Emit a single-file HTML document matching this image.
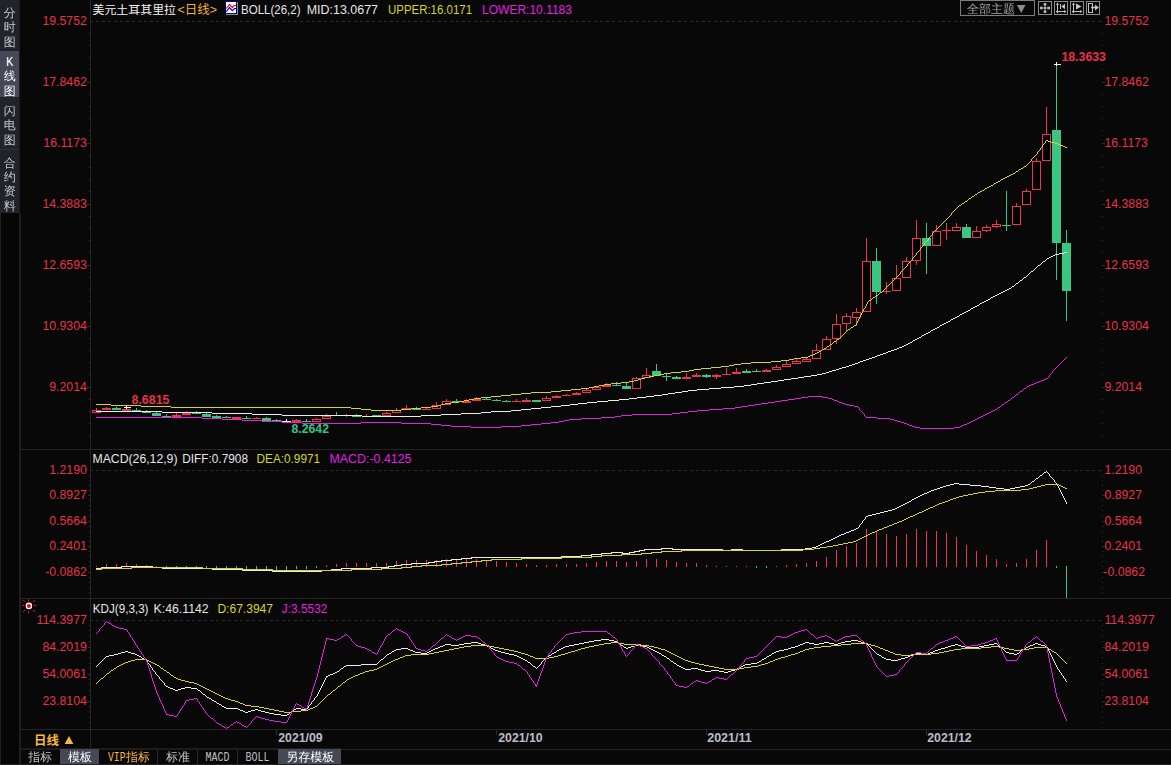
<!DOCTYPE html>
<html lang="zh-CN">
<head>
<meta charset="utf-8">
<title>美元土耳其里拉 日线</title>
<style>
html,body{margin:0;padding:0;background:#080808;overflow:hidden}
body{width:1171px;height:765px;font-family:'Liberation Sans','Noto Sans CJK SC',sans-serif}
svg{display:block}
text{white-space:pre}
</style>
</head>
<body>
<svg width="1171" height="765" viewBox="0 0 1171 765">
<rect x="0" y="0" width="1171" height="765" fill="#080808" />
<rect x="0" y="0" width="19" height="213" fill="#222329" />
<rect x="0" y="51" width="19" height="46" fill="#454856" />
<rect x="0" y="149" width="19" height="1" fill="#2e3037" />
<rect x="0" y="213" width="20" height="552" fill="#060606" />
<rect x="0" y="213" width="1" height="552" fill="#202022" />
<rect x="19" y="0" width="1" height="213" fill="#1b1c20" />
<rect x="19" y="213" width="2" height="552" fill="#1e1e1f" />
<rect x="90" y="0" width="1" height="749" fill="#242424" />
<rect x="20" y="449" width="1151" height="1" fill="#242424" />
<rect x="20" y="598" width="1151" height="1" fill="#242424" />
<rect x="20" y="729" width="1151" height="1" fill="#242424" />
<rect x="20" y="748" width="322" height="1" fill="#1d1d1d" />
<rect x="20" y="749" width="1151" height="1" fill="#1c1c1c" />
<rect x="342" y="749" width="829" height="1" fill="#242424" />
<rect x="20" y="764" width="1151" height="1" fill="#1c1c1c" />
<line x1="90" y1="21.5" x2="1101" y2="21.5" stroke="#2b2b2b" stroke-width="1" stroke-dasharray="3 3"/>
<line x1="90" y1="470.5" x2="1101" y2="470.5" stroke="#2b2b2b" stroke-width="1" stroke-dasharray="3 3"/>
<line x1="90" y1="620.5" x2="1101" y2="620.5" stroke="#2b2b2b" stroke-width="1" stroke-dasharray="3 3"/>
<rect x="89" y="33" width="1" height="1" fill="#333" />
<rect x="1102" y="33" width="1" height="1" fill="#333" />
<rect x="89" y="45" width="1" height="1" fill="#333" />
<rect x="1102" y="45" width="1" height="1" fill="#333" />
<rect x="89" y="57" width="1" height="1" fill="#333" />
<rect x="1102" y="57" width="1" height="1" fill="#333" />
<rect x="89" y="69" width="1" height="1" fill="#333" />
<rect x="1102" y="69" width="1" height="1" fill="#333" />
<rect x="87" y="82" width="3" height="1" fill="#2e2e2e" />
<rect x="1102" y="82" width="3" height="1" fill="#2e2e2e" />
<rect x="89" y="94" width="1" height="1" fill="#333" />
<rect x="1102" y="94" width="1" height="1" fill="#333" />
<rect x="89" y="106" width="1" height="1" fill="#333" />
<rect x="1102" y="106" width="1" height="1" fill="#333" />
<rect x="89" y="118" width="1" height="1" fill="#333" />
<rect x="1102" y="118" width="1" height="1" fill="#333" />
<rect x="89" y="130" width="1" height="1" fill="#333" />
<rect x="1102" y="130" width="1" height="1" fill="#333" />
<rect x="87" y="143" width="3" height="1" fill="#2e2e2e" />
<rect x="1102" y="143" width="3" height="1" fill="#2e2e2e" />
<rect x="89" y="155" width="1" height="1" fill="#333" />
<rect x="1102" y="155" width="1" height="1" fill="#333" />
<rect x="89" y="167" width="1" height="1" fill="#333" />
<rect x="1102" y="167" width="1" height="1" fill="#333" />
<rect x="89" y="179" width="1" height="1" fill="#333" />
<rect x="1102" y="179" width="1" height="1" fill="#333" />
<rect x="89" y="191" width="1" height="1" fill="#333" />
<rect x="1102" y="191" width="1" height="1" fill="#333" />
<rect x="87" y="204" width="3" height="1" fill="#2e2e2e" />
<rect x="1102" y="204" width="3" height="1" fill="#2e2e2e" />
<rect x="89" y="216" width="1" height="1" fill="#333" />
<rect x="1102" y="216" width="1" height="1" fill="#333" />
<rect x="89" y="228" width="1" height="1" fill="#333" />
<rect x="1102" y="228" width="1" height="1" fill="#333" />
<rect x="89" y="240" width="1" height="1" fill="#333" />
<rect x="1102" y="240" width="1" height="1" fill="#333" />
<rect x="89" y="252" width="1" height="1" fill="#333" />
<rect x="1102" y="252" width="1" height="1" fill="#333" />
<rect x="87" y="265" width="3" height="1" fill="#2e2e2e" />
<rect x="1102" y="265" width="3" height="1" fill="#2e2e2e" />
<rect x="89" y="277" width="1" height="1" fill="#333" />
<rect x="1102" y="277" width="1" height="1" fill="#333" />
<rect x="89" y="289" width="1" height="1" fill="#333" />
<rect x="1102" y="289" width="1" height="1" fill="#333" />
<rect x="89" y="301" width="1" height="1" fill="#333" />
<rect x="1102" y="301" width="1" height="1" fill="#333" />
<rect x="89" y="313" width="1" height="1" fill="#333" />
<rect x="1102" y="313" width="1" height="1" fill="#333" />
<rect x="87" y="326" width="3" height="1" fill="#2e2e2e" />
<rect x="1102" y="326" width="3" height="1" fill="#2e2e2e" />
<rect x="89" y="338" width="1" height="1" fill="#333" />
<rect x="1102" y="338" width="1" height="1" fill="#333" />
<rect x="89" y="350" width="1" height="1" fill="#333" />
<rect x="1102" y="350" width="1" height="1" fill="#333" />
<rect x="89" y="362" width="1" height="1" fill="#333" />
<rect x="1102" y="362" width="1" height="1" fill="#333" />
<rect x="89" y="374" width="1" height="1" fill="#333" />
<rect x="1102" y="374" width="1" height="1" fill="#333" />
<rect x="87" y="387" width="3" height="1" fill="#2e2e2e" />
<rect x="1102" y="387" width="3" height="1" fill="#2e2e2e" />
<rect x="89" y="399" width="1" height="1" fill="#333" />
<rect x="1102" y="399" width="1" height="1" fill="#333" />
<rect x="89" y="411" width="1" height="1" fill="#333" />
<rect x="1102" y="411" width="1" height="1" fill="#333" />
<rect x="89" y="423" width="1" height="1" fill="#333" />
<rect x="1102" y="423" width="1" height="1" fill="#333" />
<rect x="89" y="435" width="1" height="1" fill="#333" />
<rect x="1102" y="435" width="1" height="1" fill="#333" />
<rect x="89" y="475" width="1" height="1" fill="#333" />
<rect x="1102" y="475" width="1" height="1" fill="#333" />
<rect x="89" y="480" width="1" height="1" fill="#333" />
<rect x="1102" y="480" width="1" height="1" fill="#333" />
<rect x="89" y="485" width="1" height="1" fill="#333" />
<rect x="1102" y="485" width="1" height="1" fill="#333" />
<rect x="89" y="490" width="1" height="1" fill="#333" />
<rect x="1102" y="490" width="1" height="1" fill="#333" />
<rect x="88" y="495" width="2" height="1" fill="#2e2e2e" />
<rect x="1102" y="495" width="3" height="1" fill="#2a2a2a" />
<rect x="89" y="500" width="1" height="1" fill="#333" />
<rect x="1102" y="500" width="1" height="1" fill="#333" />
<rect x="89" y="505" width="1" height="1" fill="#333" />
<rect x="1102" y="505" width="1" height="1" fill="#333" />
<rect x="89" y="510" width="1" height="1" fill="#333" />
<rect x="1102" y="510" width="1" height="1" fill="#333" />
<rect x="89" y="515" width="1" height="1" fill="#333" />
<rect x="1102" y="515" width="1" height="1" fill="#333" />
<rect x="88" y="521" width="2" height="1" fill="#2e2e2e" />
<rect x="1102" y="521" width="3" height="1" fill="#2a2a2a" />
<rect x="89" y="526" width="1" height="1" fill="#333" />
<rect x="1102" y="526" width="1" height="1" fill="#333" />
<rect x="89" y="531" width="1" height="1" fill="#333" />
<rect x="1102" y="531" width="1" height="1" fill="#333" />
<rect x="89" y="536" width="1" height="1" fill="#333" />
<rect x="1102" y="536" width="1" height="1" fill="#333" />
<rect x="89" y="541" width="1" height="1" fill="#333" />
<rect x="1102" y="541" width="1" height="1" fill="#333" />
<rect x="88" y="546" width="2" height="1" fill="#2e2e2e" />
<rect x="1102" y="546" width="3" height="1" fill="#2a2a2a" />
<rect x="89" y="551" width="1" height="1" fill="#333" />
<rect x="1102" y="551" width="1" height="1" fill="#333" />
<rect x="89" y="556" width="1" height="1" fill="#333" />
<rect x="1102" y="556" width="1" height="1" fill="#333" />
<rect x="89" y="561" width="1" height="1" fill="#333" />
<rect x="1102" y="561" width="1" height="1" fill="#333" />
<rect x="89" y="566" width="1" height="1" fill="#333" />
<rect x="1102" y="566" width="1" height="1" fill="#333" />
<rect x="88" y="572" width="2" height="1" fill="#2e2e2e" />
<rect x="1102" y="572" width="3" height="1" fill="#2a2a2a" />
<rect x="89" y="577" width="1" height="1" fill="#333" />
<rect x="1102" y="577" width="1" height="1" fill="#333" />
<rect x="89" y="582" width="1" height="1" fill="#333" />
<rect x="1102" y="582" width="1" height="1" fill="#333" />
<rect x="89" y="587" width="1" height="1" fill="#333" />
<rect x="1102" y="587" width="1" height="1" fill="#333" />
<rect x="89" y="592" width="1" height="1" fill="#333" />
<rect x="1102" y="592" width="1" height="1" fill="#333" />
<rect x="89" y="625" width="1" height="1" fill="#333" />
<rect x="1102" y="625" width="1" height="1" fill="#333" />
<rect x="89" y="630" width="1" height="1" fill="#333" />
<rect x="1102" y="630" width="1" height="1" fill="#333" />
<rect x="89" y="636" width="1" height="1" fill="#333" />
<rect x="1102" y="636" width="1" height="1" fill="#333" />
<rect x="89" y="641" width="1" height="1" fill="#333" />
<rect x="1102" y="641" width="1" height="1" fill="#333" />
<rect x="88" y="647" width="2" height="1" fill="#2e2e2e" />
<rect x="1102" y="647" width="3" height="1" fill="#2a2a2a" />
<rect x="89" y="652" width="1" height="1" fill="#333" />
<rect x="1102" y="652" width="1" height="1" fill="#333" />
<rect x="89" y="657" width="1" height="1" fill="#333" />
<rect x="1102" y="657" width="1" height="1" fill="#333" />
<rect x="89" y="663" width="1" height="1" fill="#333" />
<rect x="1102" y="663" width="1" height="1" fill="#333" />
<rect x="89" y="668" width="1" height="1" fill="#333" />
<rect x="1102" y="668" width="1" height="1" fill="#333" />
<rect x="88" y="674" width="2" height="1" fill="#2e2e2e" />
<rect x="1102" y="674" width="3" height="1" fill="#2a2a2a" />
<rect x="89" y="679" width="1" height="1" fill="#333" />
<rect x="1102" y="679" width="1" height="1" fill="#333" />
<rect x="89" y="684" width="1" height="1" fill="#333" />
<rect x="1102" y="684" width="1" height="1" fill="#333" />
<rect x="89" y="690" width="1" height="1" fill="#333" />
<rect x="1102" y="690" width="1" height="1" fill="#333" />
<rect x="89" y="695" width="1" height="1" fill="#333" />
<rect x="1102" y="695" width="1" height="1" fill="#333" />
<rect x="88" y="701" width="2" height="1" fill="#2e2e2e" />
<rect x="1102" y="701" width="3" height="1" fill="#2a2a2a" />
<rect x="89" y="706" width="1" height="1" fill="#333" />
<rect x="1102" y="706" width="1" height="1" fill="#333" />
<rect x="89" y="711" width="1" height="1" fill="#333" />
<rect x="1102" y="711" width="1" height="1" fill="#333" />
<rect x="89" y="717" width="1" height="1" fill="#333" />
<rect x="1102" y="717" width="1" height="1" fill="#333" />
<rect x="89" y="722" width="1" height="1" fill="#333" />
<rect x="1102" y="722" width="1" height="1" fill="#333" />
<rect x="276" y="730" width="1" height="5" fill="#2c2c2c" />
<rect x="496" y="730" width="1" height="5" fill="#2c2c2c" />
<rect x="706" y="730" width="1" height="5" fill="#2c2c2c" />
<rect x="926" y="730" width="1" height="5" fill="#2c2c2c" />
<g shape-rendering="crispEdges">
<rect x="96" y="408" width="1" height="2" fill="#f5304f" />
<rect x="92" y="410" width="9" height="3" fill="#f5304f" />
<rect x="93" y="411" width="7" height="1" fill="#000" />
<rect x="106" y="407" width="1" height="1" fill="#f5304f" />
<rect x="102" y="408" width="9" height="2" fill="#f5304f" />
<rect x="116" y="407" width="1" height="1" fill="#38c681" />
<rect x="112" y="408" width="9" height="2" fill="#38c681" />
<rect x="126" y="407" width="1" height="2" fill="#f5304f" />
<rect x="122" y="409" width="9" height="2" fill="#f5304f" />
<rect x="136" y="408" width="1" height="2" fill="#38c681" />
<rect x="132" y="410" width="9" height="1" fill="#38c681" />
<rect x="146" y="410" width="1" height="2" fill="#38c681" />
<rect x="142" y="412" width="9" height="1" fill="#38c681" />
<rect x="156" y="412" width="1" height="1" fill="#38c681" />
<rect x="152" y="413" width="9" height="3" fill="#38c681" />
<rect x="166" y="414" width="1" height="2" fill="#38c681" />
<rect x="162" y="416" width="9" height="1" fill="#38c681" />
<rect x="176" y="413" width="1" height="2" fill="#f5304f" />
<rect x="172" y="415" width="9" height="2" fill="#f5304f" />
<rect x="186" y="411" width="1" height="2" fill="#f5304f" />
<rect x="182" y="413" width="9" height="2" fill="#f5304f" />
<rect x="196" y="411" width="1" height="2" fill="#38c681" />
<rect x="192" y="413" width="9" height="1" fill="#38c681" />
<rect x="206" y="413" width="1" height="1" fill="#38c681" />
<rect x="202" y="414" width="9" height="3" fill="#38c681" />
<rect x="216" y="415" width="1" height="1" fill="#38c681" />
<rect x="212" y="416" width="9" height="2" fill="#38c681" />
<rect x="226" y="416" width="1" height="1" fill="#38c681" />
<rect x="222" y="417" width="9" height="1" fill="#38c681" />
<rect x="232" y="417" width="9" height="2" fill="#f5304f" />
<rect x="246" y="416" width="1" height="2" fill="#38c681" />
<rect x="242" y="418" width="9" height="1" fill="#38c681" />
<rect x="256" y="417" width="1" height="1" fill="#f5304f" />
<rect x="252" y="418" width="9" height="1" fill="#f5304f" />
<rect x="266" y="417" width="1" height="1" fill="#38c681" />
<rect x="262" y="418" width="9" height="3" fill="#38c681" />
<rect x="276" y="419" width="1" height="1" fill="#38c681" />
<rect x="272" y="420" width="9" height="1" fill="#38c681" />
<rect x="286" y="419" width="1" height="2" fill="#ffffff" />
<rect x="282" y="421" width="9" height="1" fill="#ffffff" />
<rect x="296" y="419" width="1" height="1" fill="#f5304f" />
<rect x="292" y="420" width="9" height="2" fill="#f5304f" />
<rect x="306" y="419" width="1" height="2" fill="#38c681" />
<rect x="302" y="421" width="9" height="1" fill="#38c681" />
<rect x="316" y="418" width="1" height="1" fill="#f5304f" />
<rect x="312" y="419" width="9" height="3" fill="#f5304f" />
<rect x="313" y="420" width="7" height="1" fill="#000" />
<rect x="326" y="414" width="1" height="2" fill="#f5304f" />
<rect x="322" y="416" width="9" height="3" fill="#f5304f" />
<rect x="323" y="417" width="7" height="1" fill="#000" />
<rect x="336" y="412" width="1" height="3" fill="#38c681" />
<rect x="346" y="414" width="1" height="3" fill="#f5304f" />
<rect x="356" y="414" width="1" height="2" fill="#38c681" />
<rect x="352" y="416" width="9" height="1" fill="#38c681" />
<rect x="366" y="414" width="1" height="2" fill="#f5304f" />
<rect x="372" y="415" width="9" height="1" fill="#38c681" />
<rect x="386" y="412" width="1" height="1" fill="#f5304f" />
<rect x="382" y="413" width="9" height="3" fill="#f5304f" />
<rect x="383" y="414" width="7" height="1" fill="#000" />
<rect x="396" y="408" width="1" height="2" fill="#f5304f" />
<rect x="392" y="410" width="9" height="3" fill="#f5304f" />
<rect x="393" y="411" width="7" height="1" fill="#000" />
<rect x="406" y="405" width="1" height="3" fill="#f5304f" />
<rect x="402" y="408" width="9" height="2" fill="#f5304f" />
<rect x="416" y="407" width="1" height="2" fill="#38c681" />
<rect x="412" y="409" width="9" height="1" fill="#38c681" />
<rect x="426" y="408" width="1" height="1" fill="#f5304f" />
<rect x="422" y="409" width="9" height="1" fill="#f5304f" />
<rect x="436" y="402" width="1" height="3" fill="#f5304f" />
<rect x="432" y="405" width="9" height="4" fill="#f5304f" />
<rect x="433" y="406" width="7" height="2" fill="#000" />
<rect x="446" y="399" width="1" height="2" fill="#f5304f" />
<rect x="442" y="401" width="9" height="4" fill="#f5304f" />
<rect x="443" y="402" width="7" height="2" fill="#000" />
<rect x="456" y="399" width="1" height="2" fill="#38c681" />
<rect x="452" y="401" width="9" height="1" fill="#38c681" />
<rect x="466" y="399" width="1" height="2" fill="#f5304f" />
<rect x="462" y="401" width="9" height="2" fill="#f5304f" />
<rect x="476" y="397" width="1" height="2" fill="#f5304f" />
<rect x="472" y="399" width="9" height="2" fill="#f5304f" />
<rect x="486" y="398" width="1" height="1" fill="#38c681" />
<rect x="482" y="399" width="9" height="1" fill="#38c681" />
<rect x="496" y="399" width="1" height="1" fill="#38c681" />
<rect x="492" y="400" width="9" height="1" fill="#38c681" />
<rect x="506" y="400" width="1" height="1" fill="#38c681" />
<rect x="502" y="401" width="9" height="1" fill="#38c681" />
<rect x="516" y="399" width="1" height="2" fill="#f5304f" />
<rect x="512" y="401" width="9" height="1" fill="#f5304f" />
<rect x="526" y="398" width="1" height="2" fill="#f5304f" />
<rect x="522" y="400" width="9" height="2" fill="#f5304f" />
<rect x="532" y="400" width="9" height="2" fill="#38c681" />
<rect x="546" y="396" width="1" height="2" fill="#f5304f" />
<rect x="542" y="398" width="9" height="3" fill="#f5304f" />
<rect x="543" y="399" width="7" height="1" fill="#000" />
<rect x="556" y="395" width="1" height="1" fill="#f5304f" />
<rect x="552" y="396" width="9" height="2" fill="#f5304f" />
<rect x="566" y="394" width="1" height="1" fill="#f5304f" />
<rect x="562" y="395" width="9" height="1" fill="#f5304f" />
<rect x="576" y="392" width="1" height="1" fill="#f5304f" />
<rect x="572" y="393" width="9" height="2" fill="#f5304f" />
<rect x="586" y="389" width="1" height="1" fill="#f5304f" />
<rect x="582" y="390" width="9" height="3" fill="#f5304f" />
<rect x="583" y="391" width="7" height="1" fill="#000" />
<rect x="592" y="387" width="9" height="3" fill="#f5304f" />
<rect x="593" y="388" width="7" height="1" fill="#000" />
<rect x="606" y="383" width="1" height="2" fill="#f5304f" />
<rect x="602" y="385" width="9" height="2" fill="#f5304f" />
<rect x="616" y="382" width="1" height="3" fill="#38c681" />
<rect x="612" y="385" width="9" height="1" fill="#38c681" />
<rect x="626" y="383" width="1" height="3" fill="#38c681" />
<rect x="622" y="386" width="9" height="3" fill="#38c681" />
<rect x="636" y="377" width="1" height="1" fill="#f5304f" />
<rect x="632" y="378" width="9" height="11" fill="#f5304f" />
<rect x="633" y="379" width="7" height="9" fill="#000" />
<rect x="646" y="368" width="1" height="7" fill="#f5304f" />
<rect x="642" y="375" width="9" height="3" fill="#f5304f" />
<rect x="643" y="376" width="7" height="1" fill="#000" />
<rect x="656" y="364" width="1" height="7" fill="#38c681" />
<rect x="652" y="371" width="9" height="5" fill="#38c681" />
<rect x="666" y="374" width="1" height="7" fill="#38c681" />
<rect x="662" y="376" width="9" height="1" fill="#38c681" />
<rect x="676" y="376" width="1" height="1" fill="#38c681" />
<rect x="672" y="377" width="9" height="2" fill="#38c681" />
<rect x="686" y="373" width="1" height="4" fill="#f5304f" />
<rect x="682" y="377" width="9" height="2" fill="#f5304f" />
<rect x="696" y="373" width="1" height="2" fill="#f5304f" />
<rect x="692" y="375" width="9" height="2" fill="#f5304f" />
<rect x="706" y="374" width="1" height="1" fill="#38c681" />
<rect x="706" y="377" width="1" height="1" fill="#38c681" />
<rect x="702" y="375" width="9" height="2" fill="#38c681" />
<rect x="716" y="374" width="1" height="1" fill="#f5304f" />
<rect x="716" y="377" width="1" height="2" fill="#f5304f" />
<rect x="712" y="375" width="9" height="2" fill="#f5304f" />
<rect x="726" y="368" width="1" height="6" fill="#f5304f" />
<rect x="722" y="374" width="9" height="1" fill="#f5304f" />
<rect x="736" y="368" width="1" height="4" fill="#f5304f" />
<rect x="732" y="372" width="9" height="2" fill="#f5304f" />
<rect x="746" y="369" width="1" height="2" fill="#38c681" />
<rect x="742" y="371" width="9" height="2" fill="#38c681" />
<rect x="756" y="369" width="1" height="2" fill="#38c681" />
<rect x="752" y="371" width="9" height="1" fill="#38c681" />
<rect x="766" y="369" width="1" height="1" fill="#f5304f" />
<rect x="762" y="370" width="9" height="2" fill="#f5304f" />
<rect x="776" y="365" width="1" height="2" fill="#f5304f" />
<rect x="772" y="367" width="9" height="3" fill="#f5304f" />
<rect x="773" y="368" width="7" height="1" fill="#000" />
<rect x="786" y="361" width="1" height="3" fill="#f5304f" />
<rect x="782" y="364" width="9" height="3" fill="#f5304f" />
<rect x="783" y="365" width="7" height="1" fill="#000" />
<rect x="796" y="359" width="1" height="2" fill="#f5304f" />
<rect x="792" y="361" width="9" height="3" fill="#f5304f" />
<rect x="793" y="362" width="7" height="1" fill="#000" />
<rect x="806" y="358" width="1" height="1" fill="#f5304f" />
<rect x="802" y="359" width="9" height="3" fill="#f5304f" />
<rect x="803" y="360" width="7" height="1" fill="#000" />
<rect x="816" y="344" width="1" height="6" fill="#f5304f" />
<rect x="812" y="350" width="9" height="9" fill="#f5304f" />
<rect x="813" y="351" width="7" height="7" fill="#000" />
<rect x="826" y="336" width="1" height="3" fill="#f5304f" />
<rect x="822" y="339" width="9" height="11" fill="#f5304f" />
<rect x="823" y="340" width="7" height="9" fill="#000" />
<rect x="836" y="314" width="1" height="10" fill="#f5304f" />
<rect x="836" y="339" width="1" height="5" fill="#f5304f" />
<rect x="832" y="324" width="9" height="15" fill="#f5304f" />
<rect x="833" y="325" width="7" height="13" fill="#000" />
<rect x="846" y="313" width="1" height="3" fill="#f5304f" />
<rect x="846" y="324" width="1" height="7" fill="#f5304f" />
<rect x="842" y="316" width="9" height="8" fill="#f5304f" />
<rect x="843" y="317" width="7" height="6" fill="#000" />
<rect x="856" y="308" width="1" height="4" fill="#f5304f" />
<rect x="856" y="318" width="1" height="8" fill="#f5304f" />
<rect x="852" y="312" width="9" height="6" fill="#f5304f" />
<rect x="853" y="313" width="7" height="4" fill="#000" />
<rect x="866" y="238" width="1" height="23" fill="#f5304f" />
<rect x="862" y="261" width="9" height="51" fill="#f5304f" />
<rect x="863" y="262" width="7" height="49" fill="#000" />
<rect x="876" y="248" width="1" height="13" fill="#38c681" />
<rect x="876" y="292" width="1" height="12" fill="#38c681" />
<rect x="872" y="261" width="9" height="31" fill="#38c681" />
<rect x="886" y="282" width="1" height="12" fill="#f5304f" />
<rect x="882" y="291" width="9" height="1" fill="#f5304f" />
<rect x="896" y="265" width="1" height="13" fill="#f5304f" />
<rect x="892" y="278" width="9" height="13" fill="#f5304f" />
<rect x="893" y="279" width="7" height="11" fill="#000" />
<rect x="906" y="257" width="1" height="4" fill="#f5304f" />
<rect x="902" y="261" width="9" height="17" fill="#f5304f" />
<rect x="903" y="262" width="7" height="15" fill="#000" />
<rect x="916" y="220" width="1" height="18" fill="#f5304f" />
<rect x="916" y="261" width="1" height="4" fill="#f5304f" />
<rect x="912" y="238" width="9" height="23" fill="#f5304f" />
<rect x="913" y="239" width="7" height="21" fill="#000" />
<rect x="926" y="223" width="1" height="15" fill="#38c681" />
<rect x="926" y="246" width="1" height="28" fill="#38c681" />
<rect x="922" y="238" width="9" height="8" fill="#38c681" />
<rect x="936" y="225" width="1" height="6" fill="#f5304f" />
<rect x="932" y="231" width="9" height="15" fill="#f5304f" />
<rect x="933" y="232" width="7" height="13" fill="#000" />
<rect x="946" y="223" width="1" height="17" fill="#f5304f" />
<rect x="942" y="230" width="9" height="1" fill="#f5304f" />
<rect x="956" y="223" width="1" height="4" fill="#f5304f" />
<rect x="952" y="227" width="9" height="4" fill="#f5304f" />
<rect x="953" y="228" width="7" height="2" fill="#000" />
<rect x="966" y="224" width="1" height="3" fill="#38c681" />
<rect x="962" y="227" width="9" height="11" fill="#38c681" />
<rect x="976" y="226" width="1" height="5" fill="#f5304f" />
<rect x="972" y="231" width="9" height="7" fill="#f5304f" />
<rect x="973" y="232" width="7" height="5" fill="#000" />
<rect x="986" y="225" width="1" height="2" fill="#f5304f" />
<rect x="986" y="231" width="1" height="1" fill="#f5304f" />
<rect x="982" y="227" width="9" height="4" fill="#f5304f" />
<rect x="983" y="228" width="7" height="2" fill="#000" />
<rect x="996" y="220" width="1" height="4" fill="#f5304f" />
<rect x="996" y="227" width="1" height="1" fill="#f5304f" />
<rect x="992" y="224" width="9" height="3" fill="#f5304f" />
<rect x="993" y="225" width="7" height="1" fill="#000" />
<rect x="1006" y="191" width="1" height="40" fill="#38c681" />
<rect x="1002" y="225" width="9" height="1" fill="#38c681" />
<rect x="1016" y="203" width="1" height="3" fill="#f5304f" />
<rect x="1012" y="206" width="9" height="19" fill="#f5304f" />
<rect x="1013" y="207" width="7" height="17" fill="#000" />
<rect x="1026" y="189" width="1" height="2" fill="#f5304f" />
<rect x="1022" y="191" width="9" height="14" fill="#f5304f" />
<rect x="1023" y="192" width="7" height="12" fill="#000" />
<rect x="1036" y="158" width="1" height="3" fill="#f5304f" />
<rect x="1032" y="161" width="9" height="29" fill="#f5304f" />
<rect x="1033" y="162" width="7" height="27" fill="#000" />
<rect x="1046" y="107" width="1" height="27" fill="#f5304f" />
<rect x="1042" y="134" width="9" height="27" fill="#f5304f" />
<rect x="1043" y="135" width="7" height="25" fill="#000" />
<rect x="1056" y="64" width="1" height="66" fill="#38c681" />
<rect x="1056" y="243" width="1" height="37" fill="#38c681" />
<rect x="1052" y="130" width="9" height="113" fill="#38c681" />
<rect x="1066" y="230" width="1" height="13" fill="#38c681" />
<rect x="1066" y="291" width="1" height="30" fill="#38c681" />
<rect x="1062" y="243" width="9" height="48" fill="#38c681" />
</g>
<g shape-rendering="crispEdges">
<path d="M96 417.5h106M202 418.5h20M222 419.5h20M242 420.5h20M262 421.5h20M282 422.5h20M302 423.5h59M361 422.5h40M401 423.5h30M431 424.5h10M441 425.5h10M451 426.5h20M471 427.5h30M501 426.5h20M521 425.5h10M531 424.5h10M541 423.5h10M551 422.5h8M559 421.5h5M564 420.5h5M569 419.5h12M581 418.5h20M601 417.5h14M615 416.5h6M621 415.5h11M632 414.5h40M672 413.5h8M680 412.5h8M688 411.5h9M697 410.5h12M709 409.5h14M723 408.5h12M735 407.5h6M741 406.5h7M748 405.5h7M755 404.5h6M761 403.5h7M768 402.5h7M775 401.5h6M781 400.5h7M788 399.5h7M795 398.5h6M801 397.5h7M808 396.5h15M823 397.5h5M828 398.5h4M832 399.5h2M834 400.5h3M837 401.5h2M839 402.5h3M842 403.5h3M845 404.5h4M849 405.5h5M854 406.5h4M858 407.5h1M859.5 408v2M860 410.5h1M861 411.5h1M862 412.5h1M863 413.5h1M864.5 414v2M865 416.5h1M866 417.5h11M877 418.5h13M890 419.5h4M894 420.5h3M897 421.5h4M901 422.5h3M904 423.5h3M907 424.5h2M909 425.5h3M912 426.5h3M915 427.5h5M920 428.5h34M954 427.5h6M960 426.5h2M962 425.5h2M964 424.5h3M967 423.5h2M969 422.5h2M971 421.5h2M973 420.5h2M975 419.5h2M977 418.5h2M979 417.5h2M981 416.5h2M983 415.5h2M985 414.5h2M987 413.5h2M989 412.5h2M991 411.5h2M993 410.5h2M995 409.5h2M997 408.5h1M998 407.5h2M1000 406.5h1M1001 405.5h1M1002 404.5h2M1004 403.5h1M1005 402.5h2M1007 401.5h1M1008 400.5h2M1010 399.5h1M1011 398.5h1M1012 397.5h2M1014 396.5h1M1015 395.5h1M1016 394.5h2M1018 393.5h1M1019 392.5h1M1020 391.5h2M1022 390.5h1M1023 389.5h1M1024 388.5h2M1026 387.5h1M1027 386.5h2M1029 385.5h2M1031 384.5h3M1034 383.5h2M1036 382.5h3M1039 381.5h2M1041 380.5h3M1044 379.5h2M1046 378.5h2M1048 377.5h1M1049.5 375v2M1050 374.5h1M1051 373.5h1M1052.5 371v2M1053 370.5h1M1054 369.5h1M1055 368.5h1M1056 367.5h1M1057 366.5h1M1058 365.5h1M1059 364.5h1M1060 363.5h1M1061 362.5h1M1062 361.5h1M1063 360.5h1M1064 359.5h1M1065 358.5h1M1066 357.5h1" fill="none" stroke="#e41fe4" stroke-width="1"/>
<path d="M96 411.5h66M162 412.5h50M212 413.5h40M252 414.5h30M282 415.5h80M362 416.5h59M421 415.5h20M441 414.5h20M461 413.5h20M481 412.5h10M491 411.5h20M511 410.5h10M521 409.5h10M531 408.5h10M541 407.5h10M551 406.5h10M561 405.5h9M570 404.5h8M578 403.5h9M587 402.5h10M597 401.5h11M608 400.5h11M619 399.5h10M629 398.5h8M637 397.5h9M646 396.5h8M654 395.5h8M662 394.5h6M668 393.5h7M675 392.5h7M682 391.5h6M688 390.5h9M697 389.5h12M709 388.5h12M721 387.5h13M734 386.5h10M744 385.5h7M751 384.5h6M757 383.5h7M764 382.5h7M771 381.5h7M778 380.5h6M784 379.5h7M791 378.5h7M798 377.5h6M804 376.5h7M811 375.5h6M817 374.5h5M822 373.5h4M826 372.5h3M829 371.5h3M832 370.5h4M836 369.5h3M839 368.5h3M842 367.5h4M846 366.5h3M849 365.5h3M852 364.5h3M855 363.5h3M858 362.5h2M860 361.5h3M863 360.5h3M866 359.5h3M869 358.5h3M872 357.5h3M875 356.5h2M877 355.5h3M880 354.5h3M883 353.5h3M886 352.5h2M888 351.5h3M891 350.5h3M894 349.5h3M897 348.5h2M899 347.5h3M902 346.5h2M904 345.5h2M906 344.5h2M908 343.5h2M910 342.5h2M912 341.5h1M913 340.5h2M915 339.5h2M917 338.5h2M919 337.5h2M921 336.5h1M922 335.5h2M924 334.5h2M926 333.5h2M928 332.5h2M930 331.5h1M931 330.5h2M933 329.5h2M935 328.5h2M937 327.5h2M939 326.5h1M940 325.5h2M942 324.5h2M944 323.5h2M946 322.5h2M948 321.5h2M950 320.5h1M951 319.5h2M953 318.5h2M955 317.5h2M957 316.5h2M959 315.5h1M960 314.5h2M962 313.5h2M964 312.5h2M966 311.5h2M968 310.5h2M970 309.5h1M971 308.5h2M973 307.5h2M975 306.5h2M977 305.5h2M979 304.5h1M980 303.5h2M982 302.5h2M984 301.5h2M986 300.5h2M988 299.5h2M990 298.5h1M991 297.5h2M993 296.5h2M995 295.5h2M997 294.5h2M999 293.5h2M1001 292.5h2M1003 291.5h2M1005 290.5h2M1007 289.5h2M1009 288.5h2M1011 287.5h1M1012 286.5h2M1014 285.5h1M1015 284.5h1M1016 283.5h2M1018 282.5h1M1019 281.5h1M1020 280.5h2M1022 279.5h1M1023 278.5h1M1024 277.5h2M1026 276.5h1M1027 275.5h1M1028 274.5h1M1029 273.5h1M1030 272.5h1M1031 271.5h2M1033 270.5h1M1034 269.5h1M1035 268.5h1M1036 267.5h1M1037 266.5h1M1038 265.5h2M1040 264.5h1M1041 263.5h1M1042 262.5h1M1043 261.5h2M1045 260.5h1M1046 259.5h1M1047 258.5h2M1049 257.5h2M1051 256.5h2M1053 255.5h2M1055 254.5h4M1059 253.5h5M1064 252.5h3" fill="none" stroke="#ececec" stroke-width="1"/>
<path d="M96 404.5h15M111 405.5h30M141 406.5h30M171 407.5h180M351 408.5h10M361 409.5h10M371 410.5h30M401 409.5h10M411 408.5h10M421 407.5h10M431 406.5h7M438 405.5h3M441 404.5h4M445 403.5h6M451 402.5h8M459 401.5h5M464 400.5h5M469 399.5h5M474 398.5h7M481 397.5h10M491 396.5h10M501 395.5h10M511 394.5h10M521 393.5h10M531 392.5h20M551 391.5h10M561 390.5h10M571 389.5h10M581 388.5h8M589 387.5h5M594 386.5h5M599 385.5h5M604 384.5h7M611 383.5h10M621 382.5h8M629 381.5h5M634 380.5h4M638 379.5h3M641 378.5h4M645 377.5h4M649 376.5h5M654 375.5h5M659 374.5h5M664 373.5h7M671 372.5h10M681 371.5h8M689 370.5h5M694 369.5h7M701 368.5h10M711 367.5h10M721 366.5h8M729 365.5h5M734 364.5h7M741 363.5h10M751 362.5h20M771 361.5h10M781 360.5h8M789 359.5h5M794 358.5h7M801 357.5h7M808 356.5h2M810 355.5h3M813 354.5h2M815 353.5h2M817 352.5h2M819 351.5h2M821 350.5h1M822 349.5h2M824 348.5h2M826 347.5h1M827 346.5h2M829 345.5h1M830 344.5h2M832 343.5h1M833 342.5h1M834 341.5h2M836 340.5h1M837 339.5h2M839 338.5h1M840 337.5h1M841 336.5h1M842 335.5h1M843 334.5h1M844 333.5h1M845 332.5h1M846 331.5h1M847 330.5h1M848 329.5h2M850 328.5h1M851 327.5h2M853 326.5h1M854 325.5h2M856.5 323v2M857.5 321v2M858.5 319v2M859.5 317v2M860.5 315v2M861.5 313v2M862.5 311v2M863.5 309v2M864 308.5h1M865.5 306v2M866.5 304v2M867.5 302v2M868 301.5h1M869 300.5h2M871 299.5h1M872 298.5h1M873 297.5h2M875 296.5h1M876 295.5h2M878 294.5h1M879 293.5h1M880 292.5h2M882 291.5h1M883 290.5h1M884 289.5h1M885 288.5h1M886 287.5h1M887 286.5h1M888 285.5h1M889 284.5h1M890 283.5h1M891 282.5h1M892 281.5h1M893 280.5h1M894 279.5h1M895 278.5h1M896 277.5h1M897 276.5h1M898 275.5h1M899 274.5h1M900.5 272v2M901 271.5h1M902 270.5h1M903 269.5h1M904 268.5h1M905 267.5h1M906 266.5h1M907.5 264v2M908 263.5h1M909 262.5h1M910 261.5h1M911 260.5h1M912.5 258v2M913 257.5h1M914 256.5h1M915 255.5h1M916.5 253v2M917 252.5h1M918 251.5h1M919 250.5h1M920.5 248v2M921 247.5h1M922 246.5h1M923 245.5h1M924.5 243v2M925 242.5h1M926 241.5h1M927 240.5h1M928.5 238v2M929 237.5h1M930 236.5h1M931 235.5h1M932.5 233v2M933 232.5h1M934 231.5h1M935 230.5h1M936 229.5h1M937 228.5h1M938 227.5h1M939 226.5h1M940 225.5h1M941 224.5h1M942 223.5h1M943 222.5h1M944 221.5h1M945 220.5h1M946 219.5h1M947 218.5h1M948 217.5h1M949 216.5h1M950 215.5h1M951.5 213v2M952 212.5h1M953 211.5h1M954 210.5h1M955 209.5h1M956 208.5h1M957 207.5h1M958 206.5h1M959 205.5h2M961 204.5h1M962 203.5h2M964 202.5h1M965 201.5h2M967 200.5h1M968 199.5h1M969 198.5h2M971 197.5h1M972 196.5h2M974 195.5h1M975 194.5h2M977 193.5h1M978 192.5h2M980 191.5h2M982 190.5h2M984 189.5h1M985 188.5h2M987 187.5h2M989 186.5h2M991 185.5h2M993 184.5h1M994 183.5h2M996 182.5h2M998 181.5h2M1000 180.5h1M1001 179.5h2M1003 178.5h2M1005 177.5h2M1007 176.5h2M1009 175.5h2M1011 174.5h2M1013 173.5h2M1015 172.5h1M1016 171.5h2M1018 170.5h1M1019 169.5h2M1021 168.5h2M1023 167.5h1M1024 166.5h2M1026 165.5h1M1027 164.5h1M1028 163.5h1M1029 162.5h1M1030 161.5h1M1031.5 159v2M1032 158.5h1M1033 157.5h1M1034 156.5h1M1035 155.5h1M1036 154.5h1M1037.5 152v2M1038 151.5h1M1039 150.5h1M1040.5 148v2M1041 147.5h1M1042.5 145v2M1043 144.5h1M1044 143.5h1M1045.5 141v2M1046 140.5h2M1048 141.5h3M1051 142.5h4M1055 143.5h3M1058 144.5h2M1060 145.5h3M1063 146.5h2M1065 147.5h2" fill="none" stroke="#d6d61c" stroke-width="1"/>
</g>
<g shape-rendering="crispEdges">
<rect x="124" y="407" width="7" height="1" fill="#fff" />
<rect x="126" y="406" width="1" height="3" fill="#fff" />
<rect x="284" y="421" width="7" height="1" fill="#fff" />
<rect x="286" y="419" width="1" height="3" fill="#fff" />
<rect x="1054" y="64" width="7" height="1" fill="#fff" />
<rect x="1056" y="62" width="1" height="4" fill="#fff" />
</g>
<g shape-rendering="crispEdges">
<rect x="96" y="566" width="1" height="1" fill="#f5304f" />
<rect x="106" y="564" width="1" height="3" fill="#f5304f" />
<rect x="116" y="564" width="1" height="3" fill="#f5304f" />
<rect x="126" y="563" width="1" height="4" fill="#f5304f" />
<rect x="136" y="564" width="1" height="3" fill="#f5304f" />
<rect x="146" y="565" width="1" height="2" fill="#f5304f" />
<rect x="156" y="566" width="1" height="1" fill="#f5304f" />
<rect x="166" y="566" width="1" height="2" fill="#38c681" />
<rect x="176" y="566" width="1" height="2" fill="#38c681" />
<rect x="186" y="566" width="1" height="2" fill="#38c681" />
<rect x="196" y="566" width="1" height="2" fill="#38c681" />
<rect x="206" y="566" width="1" height="2" fill="#38c681" />
<rect x="216" y="566" width="1" height="3" fill="#38c681" />
<rect x="226" y="566" width="1" height="3" fill="#38c681" />
<rect x="236" y="566" width="1" height="3" fill="#38c681" />
<rect x="246" y="566" width="1" height="3" fill="#38c681" />
<rect x="256" y="566" width="1" height="3" fill="#38c681" />
<rect x="266" y="566" width="1" height="3" fill="#38c681" />
<rect x="276" y="566" width="1" height="4" fill="#38c681" />
<rect x="286" y="566" width="1" height="4" fill="#38c681" />
<rect x="296" y="566" width="1" height="3" fill="#38c681" />
<rect x="306" y="566" width="1" height="3" fill="#38c681" />
<rect x="316" y="566" width="1" height="2" fill="#38c681" />
<rect x="326" y="565" width="1" height="2" fill="#f5304f" />
<rect x="336" y="564" width="1" height="3" fill="#f5304f" />
<rect x="346" y="563" width="1" height="4" fill="#f5304f" />
<rect x="356" y="563" width="1" height="4" fill="#f5304f" />
<rect x="366" y="563" width="1" height="4" fill="#f5304f" />
<rect x="376" y="563" width="1" height="4" fill="#f5304f" />
<rect x="386" y="563" width="1" height="4" fill="#f5304f" />
<rect x="396" y="561" width="1" height="6" fill="#f5304f" />
<rect x="406" y="560" width="1" height="7" fill="#f5304f" />
<rect x="416" y="560" width="1" height="7" fill="#f5304f" />
<rect x="426" y="560" width="1" height="7" fill="#f5304f" />
<rect x="436" y="560" width="1" height="7" fill="#f5304f" />
<rect x="446" y="559" width="1" height="8" fill="#f5304f" />
<rect x="456" y="559" width="1" height="8" fill="#f5304f" />
<rect x="466" y="559" width="1" height="8" fill="#f5304f" />
<rect x="476" y="559" width="1" height="8" fill="#f5304f" />
<rect x="486" y="560" width="1" height="7" fill="#f5304f" />
<rect x="496" y="561" width="1" height="6" fill="#f5304f" />
<rect x="506" y="562" width="1" height="5" fill="#f5304f" />
<rect x="516" y="563" width="1" height="4" fill="#f5304f" />
<rect x="526" y="564" width="1" height="3" fill="#f5304f" />
<rect x="536" y="565" width="1" height="2" fill="#f5304f" />
<rect x="546" y="565" width="1" height="2" fill="#f5304f" />
<rect x="556" y="564" width="1" height="3" fill="#f5304f" />
<rect x="566" y="564" width="1" height="3" fill="#f5304f" />
<rect x="576" y="564" width="1" height="3" fill="#f5304f" />
<rect x="586" y="563" width="1" height="4" fill="#f5304f" />
<rect x="596" y="562" width="1" height="5" fill="#f5304f" />
<rect x="606" y="561" width="1" height="6" fill="#f5304f" />
<rect x="616" y="561" width="1" height="6" fill="#f5304f" />
<rect x="626" y="562" width="1" height="5" fill="#f5304f" />
<rect x="636" y="561" width="1" height="6" fill="#f5304f" />
<rect x="646" y="559" width="1" height="8" fill="#f5304f" />
<rect x="656" y="559" width="1" height="8" fill="#f5304f" />
<rect x="666" y="560" width="1" height="7" fill="#f5304f" />
<rect x="676" y="562" width="1" height="5" fill="#f5304f" />
<rect x="686" y="563" width="1" height="4" fill="#f5304f" />
<rect x="696" y="563" width="1" height="4" fill="#f5304f" />
<rect x="706" y="565" width="1" height="2" fill="#f5304f" />
<rect x="716" y="566" width="1" height="1" fill="#f5304f" />
<rect x="726" y="566" width="1" height="1" fill="#f5304f" />
<rect x="736" y="566" width="1" height="1" fill="#f5304f" />
<rect x="746" y="566" width="1" height="1" fill="#f5304f" />
<rect x="756" y="566" width="1" height="2" fill="#38c681" />
<rect x="766" y="566" width="1" height="2" fill="#38c681" />
<rect x="776" y="566" width="1" height="1" fill="#f5304f" />
<rect x="786" y="565" width="1" height="2" fill="#f5304f" />
<rect x="796" y="564" width="1" height="3" fill="#f5304f" />
<rect x="806" y="563" width="1" height="4" fill="#f5304f" />
<rect x="816" y="561" width="1" height="6" fill="#f5304f" />
<rect x="826" y="557" width="1" height="10" fill="#f5304f" />
<rect x="836" y="550" width="1" height="17" fill="#f5304f" />
<rect x="846" y="546" width="1" height="21" fill="#f5304f" />
<rect x="856" y="543" width="1" height="24" fill="#f5304f" />
<rect x="866" y="529" width="1" height="38" fill="#f5304f" />
<rect x="876" y="531" width="1" height="36" fill="#f5304f" />
<rect x="886" y="534" width="1" height="33" fill="#f5304f" />
<rect x="896" y="536" width="1" height="31" fill="#f5304f" />
<rect x="906" y="534" width="1" height="33" fill="#f5304f" />
<rect x="916" y="529" width="1" height="38" fill="#f5304f" />
<rect x="926" y="531" width="1" height="36" fill="#f5304f" />
<rect x="936" y="531" width="1" height="36" fill="#f5304f" />
<rect x="946" y="533" width="1" height="34" fill="#f5304f" />
<rect x="956" y="537" width="1" height="30" fill="#f5304f" />
<rect x="966" y="545" width="1" height="22" fill="#f5304f" />
<rect x="976" y="551" width="1" height="16" fill="#f5304f" />
<rect x="986" y="555" width="1" height="12" fill="#f5304f" />
<rect x="996" y="559" width="1" height="8" fill="#f5304f" />
<rect x="1006" y="564" width="1" height="3" fill="#f5304f" />
<rect x="1016" y="563" width="1" height="4" fill="#f5304f" />
<rect x="1026" y="559" width="1" height="8" fill="#f5304f" />
<rect x="1036" y="550" width="1" height="17" fill="#f5304f" />
<rect x="1046" y="540" width="1" height="27" fill="#f5304f" />
<rect x="1056" y="566" width="1" height="2" fill="#38c681" />
<rect x="1066" y="566" width="1" height="32" fill="#38c681" />
<path d="M96 568.5h6M101 567.5h21M121 566.5h32M152 567.5h11M162 568.5h51M212 569.5h31M242 570.5h31M272 571.5h50M321 570.5h11M331 569.5h11M341 568.5h31M371 567.5h18M388 566.5h7M394 565.5h8M401 564.5h11M411 563.5h18M428 562.5h7M434 561.5h8M441 560.5h11M451 559.5h11M461 558.5h11M471 557.5h91M561 556.5h21M581 555.5h11M591 554.5h11M601 553.5h11M611 552.5h12M622 553.5h8M629 552.5h6M634 551.5h6M639 550.5h6M644 549.5h18M661 548.5h12M672 549.5h51M722 550.5h10M731 549.5h12M742 550.5h40M781 549.5h24M805 548.5h7M812 547.5h4M816 546.5h2M818 545.5h2M820 544.5h2M822 543.5h2M824 542.5h2M826 541.5h3M829 540.5h2M831 539.5h2M833 538.5h2M835 537.5h2M837 536.5h2M839 535.5h2M841 534.5h3M844 533.5h2M846 532.5h3M849 531.5h2M851 530.5h3M854 529.5h2M856 528.5h2M858 527.5h1M859.5 525v2M860 524.5h1M861 523.5h1M862.5 521v2M863 520.5h1M864 519.5h1M865.5 517v2M866 516.5h2M868 515.5h4M872 514.5h4M876 513.5h4M880 512.5h4M884 511.5h4M888 510.5h4M892 509.5h3M895 508.5h2M897 507.5h2M899 506.5h2M901 505.5h2M903 504.5h2M905 503.5h2M907 502.5h2M909 501.5h2M911 500.5h1M912 499.5h2M914 498.5h2M916 497.5h2M918 496.5h2M920 495.5h2M922 494.5h2M924 493.5h3M927 492.5h2M929 491.5h2M931 490.5h3M934 489.5h3M937 488.5h3M940 487.5h3M943 486.5h3M946 485.5h4M950 484.5h4M954 483.5h5M959 484.5h11M970 485.5h11M981 486.5h8M989 487.5h7M996 488.5h8M1004 489.5h6M1010 488.5h5M1015 487.5h5M1020 486.5h5M1025 485.5h3M1028 484.5h2M1030 483.5h1M1031 482.5h1M1032 481.5h2M1034 480.5h1M1035 479.5h1M1036 478.5h2M1038 477.5h1M1039 476.5h1M1040 475.5h2M1042 474.5h1M1043 473.5h1M1044 472.5h2M1046 471.5h1M1047 472.5h1M1048 473.5h1M1049.5 474v2M1050 476.5h1M1051 477.5h1M1052 478.5h1M1053 479.5h1M1054.5 480v2M1055 482.5h1M1056 483.5h1M1057.5 484v2M1058.5 486v2M1059.5 488v2M1060.5 490v2M1061.5 492v2M1062.5 494v2M1063.5 496v2M1064.5 498v2M1065.5 500v2M1066.5 502v2" fill="none" stroke="#ececec" stroke-width="1"/>
<path d="M96 569.5h6M101 568.5h31M131 567.5h72M202 568.5h41M242 569.5h31M272 570.5h80M351 569.5h31M381 568.5h21M401 567.5h11M411 566.5h11M421 565.5h21M441 564.5h11M451 563.5h11M461 562.5h11M471 561.5h11M481 560.5h11M491 559.5h31M521 558.5h41M561 557.5h31M591 556.5h11M601 555.5h21M621 554.5h21M641 553.5h11M651 552.5h11M661 551.5h21M681 550.5h122M803 549.5h11M814 548.5h6M820 547.5h7M827 546.5h6M833 545.5h5M838 544.5h5M843 543.5h5M848 542.5h5M853 541.5h3M856 540.5h2M858 539.5h2M860 538.5h2M862 537.5h2M864 536.5h2M866 535.5h2M868 534.5h2M870 533.5h2M872 532.5h3M875 531.5h2M877 530.5h2M879 529.5h3M882 528.5h2M884 527.5h3M887 526.5h2M889 525.5h3M892 524.5h2M894 523.5h3M897 522.5h2M899 521.5h3M902 520.5h2M904 519.5h2M906 518.5h2M908 517.5h2M910 516.5h3M913 515.5h2M915 514.5h2M917 513.5h2M919 512.5h3M922 511.5h2M924 510.5h2M926 509.5h2M928 508.5h2M930 507.5h3M933 506.5h2M935 505.5h2M937 504.5h2M939 503.5h3M942 502.5h3M945 501.5h3M948 500.5h2M950 499.5h3M953 498.5h3M956 497.5h3M959 496.5h4M963 495.5h5M968 494.5h5M973 493.5h5M978 492.5h7M985 491.5h10M995 490.5h26M1021 489.5h8M1029 488.5h4M1033 487.5h4M1037 486.5h4M1041 485.5h4M1045 484.5h14M1059 485.5h2M1061 486.5h2M1063 487.5h2M1065 488.5h2" fill="none" stroke="#d6d61c" stroke-width="1"/>
</g>
<g shape-rendering="crispEdges">
<path d="M96 666.5h1M97 665.5h1M98 664.5h1M99 663.5h1M100 662.5h1M101 661.5h1M102 660.5h1M103 659.5h1M104 658.5h1M105 657.5h1M106 656.5h3M109 655.5h5M114 654.5h4M118 653.5h3M121 652.5h4M125 651.5h3M128 652.5h3M131 653.5h4M135 654.5h2M137 655.5h2M139 656.5h2M141 657.5h1M142 658.5h2M144 659.5h2M146 660.5h1M147.5 661v2M148 663.5h1M149 664.5h1M150.5 665v2M151 667.5h1M152.5 668v2M153 670.5h1M154 671.5h1M155.5 672v2M156 674.5h1M157 675.5h1M158 676.5h1M159.5 677v2M160 679.5h1M161 680.5h1M162 681.5h1M163 682.5h1M164.5 683v2M165 685.5h1M166 686.5h2M168 687.5h2M170 688.5h3M173 689.5h2M175 690.5h3M178 689.5h3M181 688.5h4M185 687.5h6M191 688.5h6M197 689.5h1M198 690.5h2M200 691.5h1M201 692.5h1M202 693.5h1M203 694.5h2M205 695.5h1M206 696.5h1M207 697.5h2M209 698.5h2M211 699.5h1M212 700.5h2M214 701.5h2M216 702.5h1M217 703.5h2M219 704.5h2M221 705.5h1M222 706.5h2M224 707.5h2M226 708.5h12M238 709.5h2M240 710.5h3M243 711.5h2M245 712.5h3M248 711.5h3M251 710.5h4M255 709.5h3M258 710.5h3M261 711.5h4M265 712.5h4M269 713.5h5M274 714.5h7M281 715.5h6M287 714.5h2M289 713.5h1M290 712.5h1M291 711.5h2M293 710.5h1M294 709.5h2M296 708.5h5M301 709.5h6M307 708.5h1M308.5 706v2M309 705.5h1M310 704.5h1M311.5 702v2M312 701.5h1M313 700.5h1M314.5 698v2M315 697.5h1M316 696.5h1M317.5 694v2M318.5 692v2M319.5 690v2M320.5 688v2M321.5 686v2M322.5 684v2M323.5 682v2M324.5 680v2M325.5 678v2M326.5 676v2M327 676.5h1M328 675.5h2M330 674.5h3M333 673.5h2M335 672.5h2M337 671.5h2M339 670.5h1M340 669.5h1M341 668.5h2M343 667.5h1M344 666.5h2M346 665.5h15M361 664.5h16M377 663.5h1M378 662.5h1M379 661.5h1M380 660.5h1M381 659.5h2M383 658.5h1M384 657.5h1M385 656.5h1M386 655.5h1M387 654.5h2M389 653.5h2M391 652.5h1M392 651.5h2M394 650.5h2M396 649.5h5M401 648.5h7M408 649.5h2M410 650.5h3M413 651.5h2M415 652.5h6M421 653.5h6M427 652.5h2M429 651.5h2M431 650.5h2M433 649.5h2M435 648.5h3M438 647.5h2M440 646.5h3M443 645.5h2M445 644.5h6M451 645.5h8M459 644.5h5M464 643.5h7M471 642.5h7M478 643.5h3M481 644.5h4M485 645.5h2M487 646.5h2M489 647.5h2M491 648.5h2M493 649.5h2M495 650.5h3M498 651.5h3M501 652.5h4M505 653.5h4M509 654.5h5M514 655.5h3M517 656.5h2M519 657.5h2M521 658.5h2M523 659.5h2M525 660.5h2M527 661.5h1M528 662.5h2M530 663.5h1M531 664.5h1M532 665.5h1M533 666.5h2M535 667.5h1M536 668.5h1M537 667.5h1M538 666.5h1M539 665.5h1M540 664.5h1M541.5 662v2M542 661.5h1M543 660.5h1M544 659.5h1M545 658.5h1M546 657.5h1M547 656.5h2M549 655.5h2M551 654.5h1M552 653.5h2M554 652.5h2M556 651.5h1M557 650.5h2M559 649.5h2M561 648.5h2M563 647.5h2M565 646.5h4M569 645.5h5M574 644.5h5M579 643.5h5M584 642.5h5M589 641.5h5M594 640.5h7M601 639.5h8M609 640.5h5M614 641.5h3M617 642.5h2M619 643.5h1M620 644.5h1M621 645.5h2M623 646.5h1M624 647.5h2M626 648.5h2M628 647.5h3M631 646.5h4M635 645.5h6M641 646.5h6M647 647.5h2M649 648.5h2M651 649.5h2M653 650.5h2M655 651.5h2M657 652.5h2M659 653.5h2M661 654.5h1M662 655.5h2M664 656.5h2M666 657.5h1M667 658.5h2M669 659.5h1M670 660.5h1M671 661.5h2M673 662.5h1M674 663.5h2M676 664.5h1M677 665.5h2M679 666.5h2M681 667.5h2M683 668.5h2M685 669.5h6M691 668.5h7M698 669.5h3M701 670.5h4M705 671.5h6M711 670.5h8M719 671.5h5M724 672.5h4M728 671.5h3M731 670.5h4M735 669.5h2M737 668.5h2M739 667.5h2M741 666.5h2M743 665.5h2M745 664.5h6M751 663.5h6M757 662.5h2M759 661.5h2M761 660.5h1M762 659.5h2M764 658.5h2M766 657.5h1M767 656.5h2M769 655.5h2M771 654.5h1M772 653.5h2M774 652.5h2M776 651.5h3M779 650.5h5M784 649.5h4M788 648.5h3M791 647.5h4M795 646.5h3M798 645.5h2M800 644.5h3M803 643.5h2M805 642.5h4M809 643.5h5M814 644.5h5M819 643.5h5M824 642.5h5M829 643.5h5M834 644.5h4M838 643.5h3M841 642.5h4M845 641.5h6M851 640.5h7M858 641.5h3M861 642.5h4M865 643.5h2M867 644.5h1M868 645.5h1M869 646.5h1M870 647.5h1M871 648.5h1M872 649.5h1M873 650.5h1M874 651.5h1M875 652.5h1M876 653.5h1M877 654.5h2M879 655.5h2M881 656.5h1M882 657.5h2M884 658.5h2M886 659.5h5M891 660.5h7M898 659.5h3M901 658.5h4M905 657.5h3M908 656.5h2M910 655.5h3M913 654.5h2M915 653.5h6M921 654.5h7M928 653.5h2M930 652.5h3M933 651.5h2M935 650.5h3M938 649.5h3M941 648.5h4M945 647.5h3M948 646.5h3M951 645.5h4M955 644.5h3M958 645.5h3M961 646.5h4M965 647.5h14M979 646.5h5M984 645.5h5M989 644.5h5M994 643.5h3M997 644.5h1M998 645.5h1M999 646.5h1M1000 647.5h1M1001 648.5h2M1003 649.5h1M1004 650.5h1M1005 651.5h1M1006 652.5h3M1009 653.5h5M1014 654.5h3M1017 653.5h2M1019 652.5h1M1020 651.5h1M1021 650.5h2M1023 649.5h1M1024 648.5h2M1026 647.5h2M1028 646.5h2M1030 645.5h3M1033 644.5h2M1035 643.5h3M1038 644.5h3M1041 645.5h4M1045 646.5h2M1047.5 647v2M1048.5 649v2M1049.5 651v2M1050.5 653v2M1051.5 655v2M1052.5 657v2M1053.5 659v2M1054.5 661v2M1055.5 663v2M1056.5 665v2M1057.5 667v2M1058 669.5h1M1059.5 670v2M1060 672.5h1M1061.5 673v2M1062 675.5h1M1063.5 676v2M1064 678.5h1M1065.5 679v2M1066 681.5h1" fill="none" stroke="#ececec" stroke-width="1"/>
<path d="M96 683.5h1M97 682.5h1M98 681.5h1M99 680.5h1M100 679.5h1M101 678.5h2M103 677.5h1M104 676.5h1M105 675.5h1M106 674.5h1M107 673.5h2M109 672.5h1M110 671.5h1M111 670.5h2M113 669.5h1M114 668.5h2M116 667.5h1M117 666.5h2M119 665.5h2M121 664.5h2M123 663.5h2M125 662.5h3M128 661.5h3M131 660.5h4M135 659.5h12M147 660.5h2M149 661.5h2M151 662.5h2M153 663.5h2M155 664.5h2M157 665.5h2M159 666.5h1M160 667.5h1M161 668.5h2M163 669.5h1M164 670.5h2M166 671.5h1M167 672.5h2M169 673.5h1M170 674.5h1M171 675.5h2M173 676.5h1M174 677.5h2M176 678.5h2M178 679.5h3M181 680.5h4M185 681.5h4M189 682.5h5M194 683.5h3M197 684.5h2M199 685.5h2M201 686.5h2M203 687.5h2M205 688.5h2M207 689.5h2M209 690.5h2M211 691.5h2M213 692.5h2M215 693.5h2M217 694.5h2M219 695.5h2M221 696.5h2M223 697.5h2M225 698.5h3M228 699.5h3M231 700.5h4M235 701.5h3M238 702.5h2M240 703.5h3M243 704.5h2M245 705.5h6M251 706.5h8M259 707.5h5M264 708.5h5M269 709.5h5M274 710.5h5M279 711.5h5M284 712.5h7M291 711.5h10M301 710.5h7M308 709.5h2M310 708.5h3M313 707.5h2M315 706.5h2M317 705.5h1M318 704.5h1M319 703.5h1M320 702.5h1M321 701.5h1M322 700.5h1M323 699.5h1M324 698.5h1M325 697.5h1M326 696.5h1M327 695.5h1M328 694.5h2M330 693.5h1M331 692.5h1M332 691.5h1M333 690.5h2M335 689.5h1M336 688.5h1M337 687.5h1M338 686.5h2M340 685.5h1M341 684.5h1M342 683.5h1M343 682.5h2M345 681.5h1M346 680.5h1M347 679.5h2M349 678.5h2M351 677.5h2M353 676.5h2M355 675.5h3M358 674.5h2M360 673.5h3M363 672.5h2M365 671.5h4M369 670.5h5M374 669.5h3M377 668.5h2M379 667.5h2M381 666.5h2M383 665.5h2M385 664.5h2M387 663.5h2M389 662.5h2M391 661.5h2M393 660.5h2M395 659.5h3M398 658.5h2M400 657.5h3M403 656.5h2M405 655.5h6M411 654.5h18M429 653.5h5M434 652.5h5M439 651.5h5M444 650.5h5M449 649.5h5M454 648.5h5M459 647.5h5M464 646.5h7M471 645.5h18M489 646.5h5M494 647.5h5M499 648.5h5M504 649.5h5M509 650.5h5M514 651.5h4M518 652.5h3M521 653.5h4M525 654.5h3M528 655.5h2M530 656.5h3M533 657.5h2M535 658.5h14M549 657.5h5M554 656.5h4M558 655.5h3M561 654.5h4M565 653.5h3M568 652.5h3M571 651.5h4M575 650.5h3M578 649.5h3M581 648.5h4M585 647.5h4M589 646.5h5M594 645.5h5M599 644.5h5M604 643.5h7M611 642.5h8M619 643.5h5M624 644.5h17M641 645.5h8M649 646.5h5M654 647.5h4M658 648.5h3M661 649.5h4M665 650.5h2M667 651.5h2M669 652.5h2M671 653.5h2M673 654.5h2M675 655.5h2M677 656.5h2M679 657.5h2M681 658.5h2M683 659.5h2M685 660.5h3M688 661.5h3M691 662.5h4M695 663.5h4M699 664.5h5M704 665.5h5M709 666.5h5M714 667.5h5M719 668.5h5M724 669.5h15M739 668.5h5M744 667.5h7M751 666.5h7M758 665.5h3M761 664.5h4M765 663.5h3M768 662.5h2M770 661.5h3M773 660.5h2M775 659.5h3M778 658.5h3M781 657.5h4M785 656.5h3M788 655.5h3M791 654.5h4M795 653.5h3M798 652.5h2M800 651.5h3M803 650.5h2M805 649.5h4M809 648.5h5M814 647.5h7M821 646.5h10M831 645.5h10M841 644.5h10M851 643.5h17M868 644.5h3M871 645.5h4M875 646.5h3M878 647.5h2M880 648.5h3M883 649.5h2M885 650.5h3M888 651.5h2M890 652.5h3M893 653.5h2M895 654.5h6M901 655.5h10M911 654.5h20M931 653.5h8M939 652.5h5M944 651.5h5M949 650.5h5M954 649.5h7M961 648.5h20M981 647.5h10M991 646.5h8M999 647.5h5M1004 648.5h5M1009 649.5h5M1014 650.5h7M1021 649.5h8M1029 648.5h5M1034 647.5h13M1047 648.5h2M1049 649.5h2M1051 650.5h1M1052 651.5h2M1054 652.5h2M1056 653.5h1M1057 654.5h1M1058 655.5h1M1059 656.5h1M1060 657.5h1M1061 658.5h1M1062 659.5h1M1063 660.5h1M1064 661.5h1M1065 662.5h1M1066 663.5h1" fill="none" stroke="#d6d61c" stroke-width="1"/>
<path d="M96 633.5h1M97 632.5h1M98 631.5h1M99.5 629v2M100 628.5h1M101 627.5h1M102 626.5h1M103 625.5h1M104.5 623v2M105 622.5h1M106 621.5h1M107 622.5h2M109 623.5h2M111 624.5h1M112 625.5h2M114 626.5h2M116 627.5h3M119 628.5h5M124 629.5h3M127.5 630v2M128 632.5h1M129.5 633v2M130.5 635v2M131 637.5h1M132.5 638v2M133 640.5h1M134.5 641v2M135.5 643v2M136 645.5h1M137.5 646v2M138 648.5h1M139.5 649v2M140 651.5h1M141.5 652v2M142 654.5h1M143.5 655v2M144 657.5h1M145.5 658v2M146.5 660v2M147.5 662v3M148.5 665v3M149.5 668v3M150.5 671v3M151.5 674v4M152.5 678v3M153.5 681v3M154.5 684v3M155.5 687v3M156.5 690v3M157.5 693v2M158.5 695v2M159.5 697v3M160.5 700v2M161.5 702v2M162.5 704v2M163.5 706v3M164.5 709v2M165.5 711v2M166.5 713v2M167 714.5h2M169 715.5h5M174 716.5h3M177.5 714v2M178 713.5h1M179.5 711v2M180.5 709v2M181 708.5h1M182.5 706v2M183 705.5h1M184.5 703v2M185.5 701v2M186 700.5h3M189 699.5h5M194 698.5h3M197.5 699v2M198 701.5h1M199.5 702v2M200 704.5h1M201.5 705v2M202 707.5h1M203.5 708v2M204 710.5h1M205.5 711v2M206 713.5h1M207 714.5h1M208 715.5h1M209 716.5h1M210 717.5h1M211 718.5h2M213 719.5h1M214 720.5h1M215 721.5h1M216 722.5h1M217 723.5h2M219 724.5h2M221 725.5h1M222 726.5h2M224 727.5h2M226 728.5h1M227 727.5h2M229 726.5h1M230 725.5h1M231 724.5h2M233 723.5h1M234 722.5h2M236 721.5h1M237 722.5h2M239 723.5h2M241 724.5h1M242 725.5h2M244 726.5h2M246 727.5h1M247 726.5h1M248 725.5h1M249 724.5h1M250 723.5h1M251.5 721v2M252 720.5h1M253 719.5h1M254 718.5h1M255 717.5h1M256 716.5h2M258 717.5h3M261 718.5h4M265 719.5h4M269 720.5h5M274 721.5h7M281 722.5h6M287.5 720v2M288.5 718v2M289.5 716v2M290.5 714v2M291.5 712v2M292.5 710v2M293.5 708v2M294.5 706v2M295.5 704v2M296 703.5h1M297 704.5h2M299 705.5h2M301 706.5h1M302 707.5h2M304 708.5h2M306.5 708v2M307.5 705v3M308.5 702v3M309.5 699v3M310.5 696v3M311.5 692v4M312.5 689v3M313.5 686v3M314.5 683v3M315.5 680v3M316.5 677v3M317.5 673v4M318.5 669v4M319.5 665v4M320.5 661v4M321.5 657v4M322.5 653v4M323.5 649v4M324.5 645v4M325.5 641v4M326.5 638v3M327 638.5h2M329 639.5h5M334 640.5h3M337 639.5h2M339 638.5h2M341 637.5h1M342 636.5h2M344 635.5h2M346 634.5h1M347 635.5h1M348 636.5h1M349 637.5h1M350 638.5h1M351.5 639v2M352 641.5h1M353 642.5h1M354 643.5h1M355 644.5h1M356 645.5h2M358 646.5h3M361 647.5h4M365 648.5h2M367 649.5h2M369 650.5h2M371 651.5h1M372 652.5h2M374 653.5h2M376 654.5h1M377.5 652v2M378.5 650v2M379.5 648v2M380.5 646v2M381 645.5h1M382.5 643v2M383.5 641v2M384.5 639v2M385.5 637v2M386 636.5h1M387 635.5h1M388 634.5h2M390 633.5h1M391 632.5h1M392 631.5h1M393 630.5h2M395 629.5h1M396 628.5h1M397 629.5h2M399 630.5h2M401 631.5h2M403 632.5h2M405 633.5h2M407.5 634v2M408 636.5h1M409.5 637v2M410 639.5h1M411.5 640v2M412 642.5h1M413.5 643v2M414 645.5h1M415.5 646v2M416 648.5h2M418 649.5h3M421 650.5h4M425 651.5h2M427 650.5h1M428 649.5h2M430 648.5h1M431 647.5h1M432 646.5h1M433 645.5h2M435 644.5h1M436 643.5h1M437 642.5h1M438 641.5h1M439 640.5h1M440 639.5h1M441 638.5h2M443 637.5h1M444 636.5h1M445 635.5h1M446 634.5h1M447 635.5h2M449 636.5h2M451 637.5h1M452 638.5h2M454 639.5h2M456 640.5h1M457 639.5h2M459 638.5h2M461 637.5h2M463 636.5h2M465 635.5h6M471 636.5h6M477 637.5h1M478 638.5h2M480 639.5h1M481 640.5h1M482 641.5h1M483 642.5h2M485 643.5h1M486 644.5h1M487 645.5h1M488 646.5h1M489.5 647v2M490 649.5h1M491 650.5h1M492 651.5h1M493 652.5h1M494.5 653v2M495 655.5h1M496 656.5h1M497 657.5h2M499 658.5h2M501 659.5h2M503 660.5h2M505 661.5h4M509 662.5h5M514 663.5h3M517 664.5h1M518 665.5h2M520 666.5h1M521 667.5h1M522 668.5h1M523 669.5h2M525 670.5h1M526 671.5h1M527.5 672v2M528 674.5h1M529.5 675v2M530 677.5h1M531.5 678v2M532 680.5h1M533.5 681v2M534 683.5h1M535.5 684v2M536.5 685v2M537.5 682v3M538.5 679v3M539.5 676v3M540.5 673v3M541.5 671v2M542.5 668v3M543.5 665v3M544.5 662v3M545.5 659v3M546.5 657v2M547 656.5h1M548.5 654v2M549 653.5h1M550 652.5h1M551.5 650v2M552 649.5h1M553 648.5h1M554.5 646v2M555 645.5h1M556 644.5h1M557 643.5h1M558 642.5h1M559 641.5h1M560 640.5h1M561 639.5h1M562 638.5h1M563 637.5h1M564 636.5h1M565 635.5h1M566 634.5h3M569 633.5h5M574 632.5h7M581 631.5h26M607 632.5h1M608 633.5h2M610 634.5h1M611 635.5h1M612 636.5h1M613 637.5h2M615 638.5h1M616 639.5h1M617.5 640v2M618.5 642v2M619 644.5h1M620.5 645v2M621.5 647v2M622.5 649v2M623 651.5h1M624.5 652v2M625.5 654v2M626 656.5h1M627 655.5h1M628 654.5h1M629.5 652v2M630 651.5h1M631 650.5h1M632 649.5h1M633 648.5h1M634.5 646v2M635 645.5h1M636 644.5h2M638 645.5h2M640 646.5h3M643 647.5h2M645 648.5h2M647 649.5h1M648 650.5h1M649 651.5h1M650 652.5h1M651.5 653v2M652 655.5h1M653 656.5h1M654 657.5h1M655 658.5h1M656 659.5h1M657 660.5h1M658 661.5h1M659.5 662v2M660 664.5h1M661 665.5h1M662 666.5h1M663 667.5h1M664.5 668v2M665 670.5h1M666 671.5h1M667.5 672v2M668 674.5h1M669 675.5h1M670.5 676v2M671 678.5h1M672.5 679v2M673 681.5h1M674 682.5h1M675.5 683v2M676 685.5h3M679 686.5h5M684 687.5h3M687 686.5h2M689 685.5h1M690 684.5h1M691 683.5h2M693 682.5h1M694 681.5h2M696 680.5h2M698 681.5h3M701 682.5h4M705 683.5h2M707 682.5h2M709 681.5h2M711 680.5h1M712 679.5h2M714 678.5h2M716 677.5h3M719 678.5h5M724 679.5h3M727 678.5h1M728 677.5h1M729 676.5h1M730 675.5h1M731 674.5h2M733 673.5h1M734 672.5h1M735 671.5h1M736 670.5h1M737 669.5h1M738 668.5h1M739.5 666v2M740 665.5h1M741 664.5h1M742 663.5h1M743 662.5h1M744.5 660v2M745 659.5h1M746 658.5h3M749 657.5h5M754 656.5h3M757 655.5h1M758 654.5h1M759 653.5h1M760 652.5h1M761 651.5h1M762 650.5h1M763 649.5h1M764 648.5h1M765 647.5h1M766 646.5h1M767 645.5h1M768 644.5h1M769 643.5h1M770 642.5h1M771 641.5h1M772 640.5h1M773 639.5h1M774 638.5h1M775 637.5h1M776 636.5h5M781 637.5h6M787 636.5h2M789 635.5h2M791 634.5h2M793 633.5h2M795 632.5h3M798 631.5h3M801 630.5h4M805 629.5h2M807 630.5h1M808 631.5h1M809 632.5h1M810 633.5h1M811 634.5h2M813 635.5h1M814 636.5h1M815 637.5h1M816 638.5h2M818 637.5h3M821 636.5h4M825 635.5h2M827 636.5h2M829 637.5h2M831 638.5h1M832 639.5h2M834 640.5h2M836 641.5h1M837 640.5h2M839 639.5h2M841 638.5h2M843 637.5h2M845 636.5h6M851 635.5h6M857 636.5h1M858 637.5h1M859 638.5h1M860 639.5h1M861 640.5h2M863 641.5h1M864 642.5h1M865 643.5h1M866.5 644v2M867.5 646v2M868.5 648v2M869.5 650v2M870.5 652v2M871.5 654v3M872.5 657v2M873.5 659v2M874.5 661v2M875.5 663v2M876.5 665v2M877 667.5h1M878 668.5h1M879 669.5h1M880 670.5h1M881 671.5h1M882 672.5h1M883 673.5h1M884 674.5h1M885 675.5h1M886 676.5h3M889 675.5h5M894 674.5h3M897 673.5h1M898 672.5h1M899.5 670v2M900 669.5h1M901 668.5h1M902 667.5h1M903 666.5h1M904.5 664v2M905 663.5h1M906 662.5h1M907 661.5h1M908 660.5h1M909 659.5h1M910 658.5h1M911 657.5h1M912 656.5h1M913 655.5h1M914 654.5h1M915 653.5h1M916 652.5h5M921 653.5h6M927 652.5h1M928 651.5h1M929 650.5h1M930 649.5h1M931 648.5h2M933 647.5h1M934 646.5h1M935 645.5h1M936 644.5h2M938 643.5h2M940 642.5h3M943 641.5h2M945 640.5h3M948 639.5h2M950 638.5h3M953 637.5h2M955 636.5h2M957 637.5h1M958 638.5h1M959 639.5h1M960 640.5h1M961 641.5h1M962 642.5h1M963 643.5h1M964 644.5h1M965 645.5h1M966 646.5h5M971 645.5h7M978 644.5h3M981 643.5h4M985 642.5h3M988 641.5h2M990 640.5h3M993 639.5h2M995 638.5h2M996 639.5h1M997.5 640v2M998.5 642v2M999.5 644v2M1000.5 646v2M1001.5 648v3M1002.5 651v2M1003.5 653v2M1004.5 655v2M1005.5 657v2M1006.5 659v2M1007 660.5h10M1017.5 658v2M1018 657.5h1M1019.5 655v2M1020.5 653v2M1021 652.5h1M1022.5 650v2M1023 649.5h1M1024.5 647v2M1025.5 645v2M1026 644.5h1M1027 643.5h1M1028 642.5h2M1030 641.5h1M1031 640.5h1M1032 639.5h1M1033 638.5h2M1035 637.5h1M1036 636.5h1M1037 637.5h1M1038 638.5h1M1039 639.5h1M1040 640.5h1M1041 641.5h2M1043 642.5h1M1044 643.5h1M1045 644.5h1M1046.5 645v3M1047.5 648v5M1048.5 653v5M1049.5 658v5M1050.5 663v5M1051.5 668v5M1052.5 673v5M1053.5 678v5M1054.5 683v5M1055.5 688v5M1056.5 693v4M1057.5 697v2M1058.5 699v3M1059.5 702v2M1060.5 704v3M1061.5 707v2M1062.5 709v3M1063.5 712v2M1064.5 714v3M1065.5 717v2M1066.5 719v2" fill="none" stroke="#e41fe4" stroke-width="1"/>
</g>
<text x="86.9" y="25.1" fill="#e6324b" font-size="12.3" font-weight="normal" text-anchor="end" font-family="'Liberation Sans','Noto Sans CJK SC',sans-serif" >19.5752</text>
<text x="1104.4" y="25.1" fill="#e6324b" font-size="12.3" font-weight="normal" text-anchor="start" font-family="'Liberation Sans','Noto Sans CJK SC',sans-serif" >19.5752</text>
<text x="86.9" y="86.3" fill="#e6324b" font-size="12.3" font-weight="normal" text-anchor="end" font-family="'Liberation Sans','Noto Sans CJK SC',sans-serif" >17.8462</text>
<text x="1104.4" y="86.3" fill="#e6324b" font-size="12.3" font-weight="normal" text-anchor="start" font-family="'Liberation Sans','Noto Sans CJK SC',sans-serif" >17.8462</text>
<text x="86.9" y="147.3" fill="#e6324b" font-size="12.3" font-weight="normal" text-anchor="end" font-family="'Liberation Sans','Noto Sans CJK SC',sans-serif" >16.1173</text>
<text x="1104.4" y="147.3" fill="#e6324b" font-size="12.3" font-weight="normal" text-anchor="start" font-family="'Liberation Sans','Noto Sans CJK SC',sans-serif" >16.1173</text>
<text x="86.9" y="208.3" fill="#e6324b" font-size="12.3" font-weight="normal" text-anchor="end" font-family="'Liberation Sans','Noto Sans CJK SC',sans-serif" >14.3883</text>
<text x="1104.4" y="208.3" fill="#e6324b" font-size="12.3" font-weight="normal" text-anchor="start" font-family="'Liberation Sans','Noto Sans CJK SC',sans-serif" >14.3883</text>
<text x="86.9" y="269.3" fill="#e6324b" font-size="12.3" font-weight="normal" text-anchor="end" font-family="'Liberation Sans','Noto Sans CJK SC',sans-serif" >12.6593</text>
<text x="1104.4" y="269.3" fill="#e6324b" font-size="12.3" font-weight="normal" text-anchor="start" font-family="'Liberation Sans','Noto Sans CJK SC',sans-serif" >12.6593</text>
<text x="86.9" y="330.3" fill="#e6324b" font-size="12.3" font-weight="normal" text-anchor="end" font-family="'Liberation Sans','Noto Sans CJK SC',sans-serif" >10.9304</text>
<text x="1104.4" y="330.3" fill="#e6324b" font-size="12.3" font-weight="normal" text-anchor="start" font-family="'Liberation Sans','Noto Sans CJK SC',sans-serif" >10.9304</text>
<text x="86.9" y="391.3" fill="#e6324b" font-size="12.3" font-weight="normal" text-anchor="end" font-family="'Liberation Sans','Noto Sans CJK SC',sans-serif" >9.2014</text>
<text x="1104.4" y="391.3" fill="#e6324b" font-size="12.3" font-weight="normal" text-anchor="start" font-family="'Liberation Sans','Noto Sans CJK SC',sans-serif" >9.2014</text>
<text x="86.9" y="474.3" fill="#e6324b" font-size="12.3" font-weight="normal" text-anchor="end" font-family="'Liberation Sans','Noto Sans CJK SC',sans-serif" >1.2190</text>
<text x="1104.4" y="474.3" fill="#e6324b" font-size="12.3" font-weight="normal" text-anchor="start" font-family="'Liberation Sans','Noto Sans CJK SC',sans-serif" >1.2190</text>
<text x="86.9" y="499.3" fill="#e6324b" font-size="12.3" font-weight="normal" text-anchor="end" font-family="'Liberation Sans','Noto Sans CJK SC',sans-serif" >0.8927</text>
<text x="1104.4" y="499.3" fill="#e6324b" font-size="12.3" font-weight="normal" text-anchor="start" font-family="'Liberation Sans','Noto Sans CJK SC',sans-serif" >0.8927</text>
<text x="86.9" y="525.3" fill="#e6324b" font-size="12.3" font-weight="normal" text-anchor="end" font-family="'Liberation Sans','Noto Sans CJK SC',sans-serif" >0.5664</text>
<text x="1104.4" y="525.3" fill="#e6324b" font-size="12.3" font-weight="normal" text-anchor="start" font-family="'Liberation Sans','Noto Sans CJK SC',sans-serif" >0.5664</text>
<text x="86.9" y="550.3" fill="#e6324b" font-size="12.3" font-weight="normal" text-anchor="end" font-family="'Liberation Sans','Noto Sans CJK SC',sans-serif" >0.2401</text>
<text x="1104.4" y="550.3" fill="#e6324b" font-size="12.3" font-weight="normal" text-anchor="start" font-family="'Liberation Sans','Noto Sans CJK SC',sans-serif" >0.2401</text>
<text x="86.9" y="576.3" fill="#e6324b" font-size="12.3" font-weight="normal" text-anchor="end" font-family="'Liberation Sans','Noto Sans CJK SC',sans-serif" >-0.0862</text>
<text x="1103.3" y="576.3" fill="#e6324b" font-size="12.3" font-weight="normal" text-anchor="start" font-family="'Liberation Sans','Noto Sans CJK SC',sans-serif" >-0.0862</text>
<text x="86.9" y="624.3" fill="#e6324b" font-size="12.3" font-weight="normal" text-anchor="end" font-family="'Liberation Sans','Noto Sans CJK SC',sans-serif" >114.3977</text>
<text x="1104.4" y="624.3" fill="#e6324b" font-size="12.3" font-weight="normal" text-anchor="start" font-family="'Liberation Sans','Noto Sans CJK SC',sans-serif" >114.3977</text>
<text x="86.9" y="651.3" fill="#e6324b" font-size="12.3" font-weight="normal" text-anchor="end" font-family="'Liberation Sans','Noto Sans CJK SC',sans-serif" >84.2019</text>
<text x="1104.4" y="651.3" fill="#e6324b" font-size="12.3" font-weight="normal" text-anchor="start" font-family="'Liberation Sans','Noto Sans CJK SC',sans-serif" >84.2019</text>
<text x="86.9" y="678.3" fill="#e6324b" font-size="12.3" font-weight="normal" text-anchor="end" font-family="'Liberation Sans','Noto Sans CJK SC',sans-serif" >54.0061</text>
<text x="1104.4" y="678.3" fill="#e6324b" font-size="12.3" font-weight="normal" text-anchor="start" font-family="'Liberation Sans','Noto Sans CJK SC',sans-serif" >54.0061</text>
<text x="86.9" y="705.3" fill="#e6324b" font-size="12.3" font-weight="normal" text-anchor="end" font-family="'Liberation Sans','Noto Sans CJK SC',sans-serif" >23.8104</text>
<text x="1104.4" y="705.3" fill="#e6324b" font-size="12.3" font-weight="normal" text-anchor="start" font-family="'Liberation Sans','Noto Sans CJK SC',sans-serif" >23.8104</text>
<text x="92.5" y="14.2" fill="#f2f2f2" font-size="11.6" font-weight="normal" text-anchor="start" font-family="'Liberation Sans','Noto Sans CJK SC',sans-serif" textLength="83.5" lengthAdjust="spacingAndGlyphs" >美元土耳其里拉</text>
<text x="177.5" y="14.2" fill="#f2b233" font-size="12" font-weight="normal" text-anchor="start" font-family="'Liberation Sans','Noto Sans CJK SC',sans-serif" textLength="39.5" lengthAdjust="spacingAndGlyphs" >&lt;日线&gt;</text>
<text x="241" y="14.3" fill="#e6e6e6" font-size="12" font-weight="normal" text-anchor="start" font-family="'Liberation Sans','Noto Sans CJK SC',sans-serif" textLength="59.5" lengthAdjust="spacingAndGlyphs" >BOLL(26,2)</text>
<text x="306.7" y="14.3" fill="#e6e6e6" font-size="12" font-weight="normal" text-anchor="start" font-family="'Liberation Sans','Noto Sans CJK SC',sans-serif" textLength="71.3" lengthAdjust="spacingAndGlyphs" >MID:13.0677</text>
<text x="388" y="14.3" fill="#d6d61c" font-size="12" font-weight="normal" text-anchor="start" font-family="'Liberation Sans','Noto Sans CJK SC',sans-serif" textLength="84" lengthAdjust="spacingAndGlyphs" >UPPER:16.0171</text>
<text x="482" y="14.3" fill="#e41fe4" font-size="12" font-weight="normal" text-anchor="start" font-family="'Liberation Sans','Noto Sans CJK SC',sans-serif" textLength="90" lengthAdjust="spacingAndGlyphs" >LOWER:10.1183</text>
<rect x="237" y="2" width="1" height="13" fill="#8c8c8c" />
<rect x="226" y="14" width="12" height="1" fill="#8c8c8c" />
<rect x="225" y="1" width="11" height="12" fill="#fff" stroke="#00008c" stroke-width="1" transform="translate(0.5,0.5)"/>
<polyline points="226.3,8.5 229.5,4.5 232.4,7.5 234.5,5.5 236,5.5" fill="none" stroke="#ff0000" stroke-width="1.2"/>
<polyline points="226.3,11.7 229.5,7.5 232.4,10.7 234.5,8.5 236,8.5" fill="none" stroke="#0000ff" stroke-width="1.2"/>
<text x="92.5" y="463.3" fill="#e6e6e6" font-size="12" font-weight="normal" text-anchor="start" font-family="'Liberation Sans','Noto Sans CJK SC',sans-serif" textLength="85" lengthAdjust="spacingAndGlyphs" >MACD(26,12,9)</text>
<text x="182.2" y="463.3" fill="#e6e6e6" font-size="12" font-weight="normal" text-anchor="start" font-family="'Liberation Sans','Noto Sans CJK SC',sans-serif" textLength="65.8" lengthAdjust="spacingAndGlyphs" >DIFF:0.7908</text>
<text x="256.5" y="463.3" fill="#d6d61c" font-size="12" font-weight="normal" text-anchor="start" font-family="'Liberation Sans','Noto Sans CJK SC',sans-serif" textLength="63.6" lengthAdjust="spacingAndGlyphs" >DEA:0.9971</text>
<text x="329.5" y="463.3" fill="#e41fe4" font-size="12" font-weight="normal" text-anchor="start" font-family="'Liberation Sans','Noto Sans CJK SC',sans-serif" textLength="82" lengthAdjust="spacingAndGlyphs" >MACD:-0.4125</text>
<text x="92.8" y="613.3" fill="#e6e6e6" font-size="12" font-weight="normal" text-anchor="start" font-family="'Liberation Sans','Noto Sans CJK SC',sans-serif" textLength="55.7" lengthAdjust="spacingAndGlyphs" >KDJ(9,3,3)</text>
<text x="153.6" y="613.3" fill="#e6e6e6" font-size="12" font-weight="normal" text-anchor="start" font-family="'Liberation Sans','Noto Sans CJK SC',sans-serif" textLength="55" lengthAdjust="spacingAndGlyphs" >K:46.1142</text>
<text x="217.4" y="613.3" fill="#d6d61c" font-size="12" font-weight="normal" text-anchor="start" font-family="'Liberation Sans','Noto Sans CJK SC',sans-serif" textLength="55.6" lengthAdjust="spacingAndGlyphs" >D:67.3947</text>
<text x="281.8" y="613.3" fill="#e41fe4" font-size="12" font-weight="normal" text-anchor="start" font-family="'Liberation Sans','Noto Sans CJK SC',sans-serif" textLength="45.7" lengthAdjust="spacingAndGlyphs" >J:3.5532</text>
<text x="131.5" y="404" fill="#e6324b" font-size="12" font-weight="bold" text-anchor="start" font-family="'Liberation Sans','Noto Sans CJK SC',sans-serif" textLength="38" lengthAdjust="spacingAndGlyphs" >8.6815</text>
<text x="291.5" y="433" fill="#34c484" font-size="12" font-weight="bold" text-anchor="start" font-family="'Liberation Sans','Noto Sans CJK SC',sans-serif" textLength="37.5" lengthAdjust="spacingAndGlyphs" >8.2642</text>
<text x="1061.4" y="61" fill="#e6324b" font-size="12" font-weight="bold" text-anchor="start" font-family="'Liberation Sans','Noto Sans CJK SC',sans-serif" textLength="44.6" lengthAdjust="spacingAndGlyphs" >18.3633</text>
<text x="278.2" y="741.8" fill="#b9bec9" font-size="12" font-weight="bold" text-anchor="start" font-family="'Liberation Sans','Noto Sans CJK SC',sans-serif" textLength="44.5" lengthAdjust="spacingAndGlyphs" >2021/09</text>
<text x="498.2" y="741.8" fill="#b9bec9" font-size="12" font-weight="bold" text-anchor="start" font-family="'Liberation Sans','Noto Sans CJK SC',sans-serif" textLength="44.5" lengthAdjust="spacingAndGlyphs" >2021/10</text>
<text x="707.2" y="741.8" fill="#b9bec9" font-size="12" font-weight="bold" text-anchor="start" font-family="'Liberation Sans','Noto Sans CJK SC',sans-serif" textLength="44.5" lengthAdjust="spacingAndGlyphs" >2021/11</text>
<text x="927.2" y="741.8" fill="#b9bec9" font-size="12" font-weight="bold" text-anchor="start" font-family="'Liberation Sans','Noto Sans CJK SC',sans-serif" textLength="44.5" lengthAdjust="spacingAndGlyphs" >2021/12</text>
<text x="34" y="744.8" fill="#f7ba3f" font-size="12" font-weight="bold" text-anchor="start" font-family="'Liberation Sans','Noto Sans CJK SC',sans-serif" textLength="25" lengthAdjust="spacingAndGlyphs" >日线</text>
<polygon points="64.6,744 73.4,744 69,736" fill="#f5b83d"/>
<g shape-rendering="crispEdges">
<rect x="22" y="605" width="2" height="1" fill="#ff0000" />
<rect x="34" y="605" width="2" height="1" fill="#ff0000" />
<rect x="24" y="605" width="1" height="1" fill="#7a0000" />
<rect x="36" y="605" width="1" height="1" fill="#5a0000" />
<rect x="28" y="599" width="1" height="2" fill="#ff0000" />
<rect x="28" y="601" width="1" height="1" fill="#700000" />
<rect x="28" y="611" width="1" height="2" fill="#ff0000" />
<rect x="28" y="613" width="1" height="1" fill="#500000" />
<rect x="23" y="600" width="1" height="1" fill="#ff0000" />
<rect x="24" y="601" width="1" height="1" fill="#ff0000" />
<rect x="34" y="600" width="1" height="1" fill="#ff0000" />
<rect x="33" y="601" width="1" height="1" fill="#ff0000" />
<rect x="23" y="611" width="1" height="1" fill="#ff0000" />
<rect x="24" y="610" width="1" height="1" fill="#ff0000" />
<rect x="34" y="611" width="1" height="1" fill="#ff0000" />
<rect x="33" y="610" width="1" height="1" fill="#ff0000" />
</g>
<circle cx="28.9" cy="605.9" r="4.3" fill="#000"/><circle cx="28.9" cy="605.9" r="3.3" fill="#fff"/><circle cx="28.9" cy="605.9" r="2" fill="#ff0000"/>
<text x="9.7" y="17.1" fill="#c9c9c9" font-size="12" font-weight="normal" text-anchor="middle" font-family="'Liberation Mono','WenQuanYi Zen Hei',sans-serif" >分</text>
<text x="9.7" y="31.1" fill="#c9c9c9" font-size="12" font-weight="normal" text-anchor="middle" font-family="'Liberation Mono','WenQuanYi Zen Hei',sans-serif" >时</text>
<text x="9.7" y="45.6" fill="#c9c9c9" font-size="12" font-weight="normal" text-anchor="middle" font-family="'Liberation Mono','WenQuanYi Zen Hei',sans-serif" >图</text>
<text x="9.7" y="66.1" fill="#ffffff" font-size="12" font-weight="normal" text-anchor="middle" font-family="'Liberation Mono','WenQuanYi Zen Hei',sans-serif" >K</text>
<text x="9.7" y="80.1" fill="#ffffff" font-size="12" font-weight="normal" text-anchor="middle" font-family="'Liberation Mono','WenQuanYi Zen Hei',sans-serif" >线</text>
<text x="9.7" y="94.6" fill="#ffffff" font-size="12" font-weight="normal" text-anchor="middle" font-family="'Liberation Mono','WenQuanYi Zen Hei',sans-serif" >图</text>
<text x="9.7" y="114.6" fill="#c9c9c9" font-size="12" font-weight="normal" text-anchor="middle" font-family="'Liberation Mono','WenQuanYi Zen Hei',sans-serif" >闪</text>
<text x="9.7" y="129.1" fill="#c9c9c9" font-size="12" font-weight="normal" text-anchor="middle" font-family="'Liberation Mono','WenQuanYi Zen Hei',sans-serif" >电</text>
<text x="9.7" y="143.6" fill="#c9c9c9" font-size="12" font-weight="normal" text-anchor="middle" font-family="'Liberation Mono','WenQuanYi Zen Hei',sans-serif" >图</text>
<text x="9.7" y="166.6" fill="#c9c9c9" font-size="12" font-weight="normal" text-anchor="middle" font-family="'Liberation Mono','WenQuanYi Zen Hei',sans-serif" >合</text>
<text x="9.7" y="181.1" fill="#c9c9c9" font-size="12" font-weight="normal" text-anchor="middle" font-family="'Liberation Mono','WenQuanYi Zen Hei',sans-serif" >约</text>
<text x="9.7" y="195.1" fill="#c9c9c9" font-size="12" font-weight="normal" text-anchor="middle" font-family="'Liberation Mono','WenQuanYi Zen Hei',sans-serif" >资</text>
<text x="9.7" y="209.6" fill="#c9c9c9" font-size="12" font-weight="normal" text-anchor="middle" font-family="'Liberation Mono','WenQuanYi Zen Hei',sans-serif" >料</text>
<rect x="60" y="749" width="39" height="15" fill="#454856" />
<rect x="278" y="749" width="63" height="15" fill="#454856" />
<rect x="0" y="764" width="1171" height="1" fill="#222" />
<rect x="157" y="750" width="1" height="15" fill="#2a2a2a" />
<rect x="197" y="750" width="1" height="15" fill="#2a2a2a" />
<rect x="237" y="750" width="1" height="15" fill="#2a2a2a" />
<text x="28.3" y="760.7" fill="#c0c0c0" font-size="12" font-weight="normal" text-anchor="start" font-family="'Liberation Mono','WenQuanYi Zen Hei',sans-serif" >指标</text>
<text x="68" y="760.7" fill="#ffffff" font-size="12" font-weight="normal" text-anchor="start" font-family="'Liberation Mono','WenQuanYi Zen Hei',sans-serif" >模板</text>
<text x="108" y="760.7" fill="#f5b83d" font-size="12" font-weight="normal" text-anchor="start" font-family="'Liberation Mono','WenQuanYi Zen Hei',sans-serif" textLength="17.5" lengthAdjust="spacingAndGlyphs" >VIP</text>
<text x="126" y="760.7" fill="#f5b83d" font-size="12" font-weight="normal" text-anchor="start" font-family="'Liberation Mono','WenQuanYi Zen Hei',sans-serif" >指标</text>
<text x="166" y="760.7" fill="#c0c0c0" font-size="12" font-weight="normal" text-anchor="start" font-family="'Liberation Mono','WenQuanYi Zen Hei',sans-serif" >标准</text>
<text x="205.5" y="760.7" fill="#c0c0c0" font-size="12" font-weight="normal" text-anchor="start" font-family="'Liberation Mono','WenQuanYi Zen Hei',sans-serif" textLength="24" lengthAdjust="spacingAndGlyphs" >MACD</text>
<text x="245.5" y="760.7" fill="#c0c0c0" font-size="12" font-weight="normal" text-anchor="start" font-family="'Liberation Mono','WenQuanYi Zen Hei',sans-serif" textLength="24" lengthAdjust="spacingAndGlyphs" >BOLL</text>
<text x="286.3" y="760.7" fill="#ffffff" font-size="12" font-weight="normal" text-anchor="start" font-family="'Liberation Mono','WenQuanYi Zen Hei',sans-serif" >另存模板</text>
<rect x="960.5" y="0.5" width="74" height="15" fill="none" stroke="#7c7c7c" stroke-width="1"/>
<text x="967" y="12.8" fill="#a4a4a4" font-size="12" font-weight="normal" text-anchor="start" font-family="'Liberation Mono','WenQuanYi Zen Hei',sans-serif" >全部主题</text>
<polygon points="1017,5 1025.5,5 1021.2,13" fill="#8e8e8e"/>
<rect x="1038.5" y="1.5" width="13" height="13" fill="none" stroke="#8c8c8c" stroke-width="1"/>
<rect x="1054.5" y="1.5" width="13" height="13" fill="none" stroke="#8c8c8c" stroke-width="1"/>
<rect x="1070.5" y="1.5" width="13" height="13" fill="none" stroke="#8c8c8c" stroke-width="1"/>
<rect x="1086.5" y="1.5" width="13" height="13" fill="none" stroke="#8c8c8c" stroke-width="1"/>
<rect x="1040.1" y="6.7" width="2.6" height="2.6" fill="#c4c4c4" />
<rect x="1043.7" y="6.7" width="2.6" height="2.6" fill="#c4c4c4" />
<rect x="1047.3" y="6.7" width="2.6" height="2.6" fill="#c4c4c4" />
<rect x="1043.7" y="3.1" width="2.6" height="2.6" fill="#c4c4c4" />
<rect x="1043.7" y="10.3" width="2.6" height="2.6" fill="#c4c4c4" />
<g stroke="#c4c4c4" stroke-width="1" fill="#c4c4c4"><line x1="1057.5" y1="3" x2="1057.5" y2="13"/><line x1="1056" y1="11.5" x2="1066" y2="11.5"/><polygon points="1056,5 1057.5,2.5 1059,5" stroke="none"/><polygon points="1056,11 1057.5,13.5 1059,11" stroke="none"/><polygon points="1058,10 1055.8,11.5 1058,13" stroke="none"/><polygon points="1064,10 1066.4,11.5 1064,13" stroke="none"/></g>
<g stroke="#c4c4c4" stroke-width="1" fill="#c4c4c4"><line x1="1060.5" y1="4" x2="1060.5" y2="9"/><polygon points="1061.3,6.5 1065,3.8 1065,9.2" stroke="none"/></g>
<g stroke="#c4c4c4" stroke-width="1" fill="#c4c4c4"><line x1="1073.5" y1="3" x2="1073.5" y2="13"/><line x1="1072" y1="11.5" x2="1082" y2="11.5"/><polygon points="1072,5 1073.5,2.5 1075,5" stroke="none"/><polygon points="1072,11 1073.5,13.5 1075,11" stroke="none"/><polygon points="1074,10 1071.8,11.5 1074,13" stroke="none"/><polygon points="1080,10 1082.4,11.5 1080,13" stroke="none"/></g>
<polygon points="1076,3.5 1081.5,6.5 1076,9.5" fill="#c4c4c4"/>
<g stroke="#c4c4c4" stroke-width="1" fill="none"><rect x="1088.5" y="3.5" width="4" height="9"/><line x1="1091" y1="7.5" x2="1096" y2="7.5" stroke-width="1.6"/></g><polygon points="1095,4.5 1099,7.5 1095,10.5" fill="#c4c4c4"/>
</svg>
</body>
</html>
